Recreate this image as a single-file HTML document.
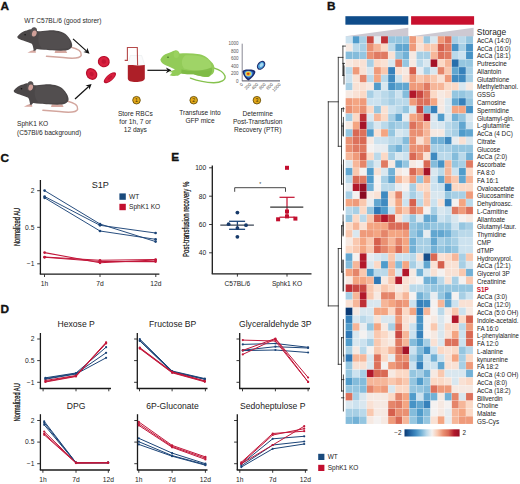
<!DOCTYPE html>
<html><head><meta charset="utf-8"><title>Figure</title>
<style>html,body{margin:0;padding:0;background:#fff;}body{width:520px;height:484px;overflow:hidden;font-family:"Liberation Sans",sans-serif;}svg{display:block;}</style>
</head><body>
<svg width="520" height="484" viewBox="0 0 520 484">
<rect width="520" height="484" fill="#fff"/>
<text x="0.4" y="10.3" font-size="11.8" font-weight="bold" fill="#111" stroke="#111" stroke-width="0.35" font-family="Liberation Sans, sans-serif">A</text>
<text x="24.3" y="22.7" font-size="6.6" fill="#2a2a2a" font-family="Liberation Sans, sans-serif">WT C57BL/6 (good storer)</text>
<g transform="translate(0.0,0.0)">
<path d="M70.5,47 C77,48.5 82,51.5 81.2,55.2 C80.4,58.2 72,58.6 63,57.6 C56,57 51,56.6 46.5,56.2" fill="none" stroke="#d3a69e" stroke-width="1.5" stroke-linecap="round"/>
<path d="M55.5,50.3 C55,51.5 54.8,52.3 54.6,52.9 L67.2,52.9 C66.8,51.8 66.3,51 65.5,50.3 Z" fill="#d6a8a0"/>
<path d="M33.2,50.2 L35.4,50.4 C35.8,51.2 35.9,52 35.9,52.8 L27.4,52.8 C28.5,51.8 30.5,51 33.2,50.2 Z" fill="#d6a8a0"/>
<path d="M17.4,36.6 C18.5,35 19.8,33.8 21.3,32.8 C23,31.6 25,30.9 26.7,30.5 C28,30 29,29.6 30.1,29.3 C33,29.5 36,30.5 38.2,31.3 C41,31 44,30.8 48,30.4 C53,30 57,30.5 61,31.8 C64.5,33 67,35 68.8,37.5 C70.8,40 72,42.5 72.2,45.1 C72.3,47 71,48.8 68.6,49.7 L66,50.5 C61,50.8 56,50.6 52,50.3 C49,50.1 46.5,49.8 44.4,49.7 C41.5,49.5 39,49.2 36.7,48.9 L35.3,50.7 L33.2,50.7 L33.6,49.7 C33.2,47.5 32.8,45.5 32.1,44.3 C31.8,43.8 31.6,43.6 31.3,43.5 C29,42.5 27,41.8 25.1,41.2 C22.5,40.3 20,39.5 18.2,38.5 C17.5,38 17.2,37.3 17.4,36.6 Z" fill="#4b4748"/>
<path d="M40,32.2 C50,31 60,32 66,35.4 C70,39.2 71,44 69,48 C62,49.4 50,49.4 42,48.4 C38,44 37,38 40,32.2 Z" fill="#524e4f"/>
<ellipse cx="33.6" cy="32.0" rx="3.2" ry="4.8" transform="rotate(15 33.6 32.0)" fill="#575253"/>
<ellipse cx="34.3" cy="33.5" rx="2.3" ry="3.1" transform="rotate(15 34.3 33.5)" fill="#cf9f98"/>
<circle cx="25.1" cy="34.7" r="0.8" fill="#151515"/>
</g>
<g transform="translate(-3.6,54.0)">
<path d="M70.5,47 C77,48.5 82,51.5 81.2,55.2 C80.4,58.2 72,58.6 63,57.6 C56,57 51,56.6 46.5,56.2" fill="none" stroke="#d3a69e" stroke-width="1.5" stroke-linecap="round"/>
<path d="M55.5,50.3 C55,51.5 54.8,52.3 54.6,52.9 L67.2,52.9 C66.8,51.8 66.3,51 65.5,50.3 Z" fill="#d6a8a0"/>
<path d="M33.2,50.2 L35.4,50.4 C35.8,51.2 35.9,52 35.9,52.8 L27.4,52.8 C28.5,51.8 30.5,51 33.2,50.2 Z" fill="#d6a8a0"/>
<path d="M17.4,36.6 C18.5,35 19.8,33.8 21.3,32.8 C23,31.6 25,30.9 26.7,30.5 C28,30 29,29.6 30.1,29.3 C33,29.5 36,30.5 38.2,31.3 C41,31 44,30.8 48,30.4 C53,30 57,30.5 61,31.8 C64.5,33 67,35 68.8,37.5 C70.8,40 72,42.5 72.2,45.1 C72.3,47 71,48.8 68.6,49.7 L66,50.5 C61,50.8 56,50.6 52,50.3 C49,50.1 46.5,49.8 44.4,49.7 C41.5,49.5 39,49.2 36.7,48.9 L35.3,50.7 L33.2,50.7 L33.6,49.7 C33.2,47.5 32.8,45.5 32.1,44.3 C31.8,43.8 31.6,43.6 31.3,43.5 C29,42.5 27,41.8 25.1,41.2 C22.5,40.3 20,39.5 18.2,38.5 C17.5,38 17.2,37.3 17.4,36.6 Z" fill="#4b4748"/>
<path d="M40,32.2 C50,31 60,32 66,35.4 C70,39.2 71,44 69,48 C62,49.4 50,49.4 42,48.4 C38,44 37,38 40,32.2 Z" fill="#524e4f"/>
<ellipse cx="33.6" cy="32.0" rx="3.2" ry="4.8" transform="rotate(15 33.6 32.0)" fill="#575253"/>
<ellipse cx="34.3" cy="33.5" rx="2.3" ry="3.1" transform="rotate(15 34.3 33.5)" fill="#cf9f98"/>
<circle cx="25.1" cy="34.7" r="0.8" fill="#151515"/>
</g>
<text x="17.0" y="126.0" font-size="6.6" fill="#262626" font-family="Liberation Sans, sans-serif">SphK1 KO</text>
<text x="17.0" y="134.6" font-size="6.6" fill="#262626" font-family="Liberation Sans, sans-serif">(C57Bl/6 background)</text>
<line x1="73.0" y1="38.9" x2="86.6" y2="51.1" stroke="#111" stroke-width="1.2"/>
<polygon points="89.5,53.7 83.4,52.1 86.6,51.1 87.3,47.8" fill="#111"/>
<line x1="75.0" y1="99.0" x2="88.7" y2="86.5" stroke="#111" stroke-width="1.2"/>
<polygon points="91.6,83.9 89.4,89.8 88.7,86.5 85.5,85.5" fill="#111"/>
<g transform="translate(103.8,61.6) rotate(10.0)">
<ellipse rx="6.0" ry="5.7" fill="#b8102e"/>
<ellipse rx="4.8" ry="4.6" fill="#d9203f"/>
<ellipse rx="2.3" ry="2.2" fill="#c41534"/>
</g>
<g transform="translate(91.6,74.0) rotate(50.0)">
<ellipse rx="6.3" ry="5.3" fill="#b8102e"/>
<ellipse rx="5.0" ry="4.2" fill="#d9203f"/>
<ellipse rx="2.4" ry="2.0" fill="#c41534"/>
</g>
<g transform="translate(109.9,77.7) rotate(-40.0)">
<ellipse rx="7.6" ry="3.2" fill="#b8102e"/>
<ellipse rx="6.1" ry="2.6" fill="#d9203f"/>
<ellipse rx="2.9" ry="1.2" fill="#c41534"/>
</g>
<path d="M130.3,55.5 L141.7,55.5 L144.8,65.3 L127.8,65.3 Z" fill="#fafbfc" stroke="#dde2e6" stroke-width="0.4"/>
<path d="M127.8,65.3 C132,64.3 138,66.3 144.8,65.0 L144.8,78.5 C144.8,81 140,82 136,82 C131,82 127.8,81 127.8,78.5 Z" fill="#ad1f28"/>
<path d="M124.7,60.4 L127.4,60.4 L127.4,47.5 L137.3,47.5 L137.6,65.5" fill="none" stroke="#b54a4a" stroke-width="1.1"/>
<line x1="147.4" y1="70.3" x2="167.6" y2="70.3" stroke="#111" stroke-width="1.2"/>
<polygon points="171.5,70.3 165.9,73.2 167.6,70.3 165.9,67.4" fill="#111"/>
<path d="M214.2,68.1 C219,69.5 223.5,72 225,76 C226,80 221,82.8 213.5,82.7 C206,82.5 197,80.5 190.4,78.1" fill="none" stroke="#86c24e" stroke-width="1.4" stroke-linecap="round"/>
<path d="M160.4,59.6 C162,56 164.5,54 167.3,53.5 C170,52.5 172.5,51 175,50.4 C177.5,50 179,51.5 179.6,53.5 C186,53 193,53.2 199.6,54.2 C205,55.2 208.8,58.8 211,61.5 C214,64 215,67 214.2,70.5 C214,72.5 213,74 211.9,74.5 L209,76.8 C206,77.2 202,77 201,76 C198,75.5 195,75 193.5,74.2 C188,74.5 183,74 181.2,73.5 L178,75.8 C175,76 171,76 169.6,75.5 C170.5,74.5 171.5,73.5 172.3,72.6 C171,72.3 169.8,72.1 168.8,72 L175,69.5 L168.8,66.5 C166.8,65.8 165.3,65.2 164.2,64.6 C162,63.5 160.5,61.5 160.4,59.6 Z" fill="#92cb58"/>
<path d="M185,55.5 C195,54.8 205,56.5 209,60.5 C212,64.5 212,69 210,71 C200,71.5 190,70.5 184,68.5 C181,64 181,59.5 185,55.5 Z" fill="#a3d66c" opacity="0.8"/>
<path d="M181.5,69.5 C190,71.5 202,71.5 211.5,67.5 C212.5,71 212,73.5 209,76.5 C205,77 201,76.5 193.5,74.2 C188,74.5 183.5,74 181.2,73.5 Z" fill="#78b43f" opacity="0.7"/>
<ellipse cx="176.3" cy="54.5" rx="2.6" ry="3.6" fill="#9bd260"/>
<circle cx="168.0" cy="57.3" r="0.8" fill="#3d6e1e"/>
<line x1="242.2" y1="43.7" x2="242.2" y2="81.2" stroke="#7c7c88" stroke-width="0.9"/>
<line x1="242.2" y1="80.9" x2="280.0" y2="80.9" stroke="#4c4c5c" stroke-width="1.0"/>
<text x="238.6" y="45.3" font-size="4.5" text-anchor="end" fill="#555" font-family="Liberation Sans, sans-serif">1000</text>
<text x="238.6" y="52.9" font-size="4.5" text-anchor="end" fill="#555" font-family="Liberation Sans, sans-serif">800</text>
<text x="238.6" y="60.1" font-size="4.5" text-anchor="end" fill="#555" font-family="Liberation Sans, sans-serif">600</text>
<text x="238.6" y="67.7" font-size="4.5" text-anchor="end" fill="#555" font-family="Liberation Sans, sans-serif">400</text>
<text x="238.6" y="75.0" font-size="4.5" text-anchor="end" fill="#555" font-family="Liberation Sans, sans-serif">200</text>
<text x="238.6" y="82.5" font-size="4.5" text-anchor="end" fill="#555" font-family="Liberation Sans, sans-serif">0</text>
<text transform="translate(243.3,84.8) rotate(-45)" font-size="4.5" text-anchor="end" fill="#555" font-family="Liberation Sans, sans-serif">0</text>
<text transform="translate(251.6,84.8) rotate(-45)" font-size="4.5" text-anchor="end" fill="#555" font-family="Liberation Sans, sans-serif">200</text>
<text transform="translate(258.6,84.8) rotate(-45)" font-size="4.5" text-anchor="end" fill="#555" font-family="Liberation Sans, sans-serif">400</text>
<text transform="translate(266.0,84.8) rotate(-45)" font-size="4.5" text-anchor="end" fill="#555" font-family="Liberation Sans, sans-serif">600</text>
<text transform="translate(273.4,84.8) rotate(-45)" font-size="4.5" text-anchor="end" fill="#555" font-family="Liberation Sans, sans-serif">800</text>
<text transform="translate(281.0,84.8) rotate(-45)" font-size="4.5" text-anchor="end" fill="#555" font-family="Liberation Sans, sans-serif">1000</text>
<path d="M242.5,71.5 C243,69.5 247,69.3 250,69.6 C253.5,69.8 255.8,70.5 255.3,72.5 C254.5,75.5 251,79 248.6,80.4 C246,79.5 243,75.5 242.5,71.5 Z" fill="#1b2a6b"/>
<path d="M244,72 C244.8,70.8 247.5,70.7 250,70.9 C252.5,71.1 254,71.8 253.6,73 C253,75 250.5,77.5 248.6,78.6 C246.8,77.6 244.5,75 244,72 Z" fill="#2e6bc0"/>
<ellipse cx="248.5" cy="73.8" rx="3.6" ry="2.9" fill="#7cc6e8"/>
<ellipse cx="248.3" cy="73.8" rx="2.7" ry="2.2" fill="#f2d23a"/>
<ellipse cx="248.2" cy="73.8" rx="1.6" ry="1.4" fill="#e5761e"/>
<ellipse cx="248.1" cy="73.7" rx="0.8" ry="0.7" fill="#c0231a"/>
<ellipse cx="261.1" cy="65.3" rx="5.0" ry="3.6" transform="rotate(-50 261.1 65.3)" fill="#1b2a6b"/>
<ellipse cx="261.1" cy="65.3" rx="3.8" ry="2.5" transform="rotate(-50 261.1 65.3)" fill="#4f9fd8"/>
<ellipse cx="261.4" cy="65.0" rx="2.2" ry="1.5" transform="rotate(-50 261.4 65.0)" fill="#a8daf2"/>
<circle cx="136.5" cy="100.2" r="3.8" fill="#e2a91a" stroke="#5a4200" stroke-width="0.8"/>
<text x="136.5" y="102.0" font-size="5.2" text-anchor="middle" fill="#4a3600" font-family="Liberation Sans, sans-serif">1</text>
<circle cx="193.7" cy="100.2" r="3.8" fill="#e2a91a" stroke="#5a4200" stroke-width="0.8"/>
<text x="193.7" y="102.0" font-size="5.2" text-anchor="middle" fill="#4a3600" font-family="Liberation Sans, sans-serif">2</text>
<circle cx="256.9" cy="100.2" r="3.8" fill="#e2a91a" stroke="#5a4200" stroke-width="0.8"/>
<text x="256.9" y="102.0" font-size="5.2" text-anchor="middle" fill="#4a3600" font-family="Liberation Sans, sans-serif">3</text>
<text x="135.3" y="116.2" font-size="6.6" text-anchor="middle" fill="#262626" font-family="Liberation Sans, sans-serif">Store RBCs</text>
<text x="135.3" y="124.3" font-size="6.6" text-anchor="middle" fill="#262626" font-family="Liberation Sans, sans-serif">for 1h, 7 or</text>
<text x="135.3" y="132.4" font-size="6.6" text-anchor="middle" fill="#262626" font-family="Liberation Sans, sans-serif">12 days</text>
<text x="200.0" y="115.0" font-size="6.6" text-anchor="middle" fill="#262626" font-family="Liberation Sans, sans-serif">Transfuse into</text>
<text x="200.0" y="123.0" font-size="6.6" text-anchor="middle" fill="#262626" font-family="Liberation Sans, sans-serif">GFP mice</text>
<text x="257.7" y="116.2" font-size="6.6" text-anchor="middle" fill="#262626" font-family="Liberation Sans, sans-serif">Determine</text>
<text x="257.7" y="124.3" font-size="6.6" text-anchor="middle" fill="#262626" font-family="Liberation Sans, sans-serif">Post-Transfusion</text>
<text x="257.7" y="132.4" font-size="6.6" text-anchor="middle" fill="#262626" font-family="Liberation Sans, sans-serif">Recovery (PTR)</text>
<text x="327.1" y="10.3" font-size="11.8" font-weight="bold" fill="#111" stroke="#111" stroke-width="0.35" font-family="Liberation Sans, sans-serif">B</text>
<g stroke="#ffffff" stroke-width="0.35" stroke-opacity="0.4">
<rect x="345.60" y="36.00" width="7.08" height="7.76" fill="#cce2ef"/>
<rect x="352.68" y="36.00" width="7.08" height="7.76" fill="#509ccb"/>
<rect x="359.76" y="36.00" width="7.08" height="7.76" fill="#a7cfe5"/>
<rect x="366.84" y="36.00" width="7.08" height="7.76" fill="#ca4842"/>
<rect x="373.92" y="36.00" width="7.08" height="7.76" fill="#e7ecf0"/>
<rect x="381.00" y="36.00" width="7.08" height="7.76" fill="#be3036"/>
<rect x="388.08" y="36.00" width="7.08" height="7.76" fill="#95c6e0"/>
<rect x="395.16" y="36.00" width="7.08" height="7.76" fill="#95c6e0"/>
<rect x="402.24" y="36.00" width="7.08" height="7.76" fill="#95c6e0"/>
<rect x="409.32" y="36.00" width="7.08" height="7.76" fill="#ef9a7a"/>
<rect x="416.40" y="36.00" width="7.08" height="7.76" fill="#fbd9c6"/>
<rect x="423.48" y="36.00" width="7.08" height="7.76" fill="#95c6e0"/>
<rect x="430.56" y="36.00" width="7.08" height="7.76" fill="#d9e7ef"/>
<rect x="437.64" y="36.00" width="7.08" height="7.76" fill="#ef9a7a"/>
<rect x="444.72" y="36.00" width="7.08" height="7.76" fill="#dd715b"/>
<rect x="451.80" y="36.00" width="7.08" height="7.76" fill="#a7cfe5"/>
<rect x="458.88" y="36.00" width="7.08" height="7.76" fill="#bad9ea"/>
<rect x="465.96" y="36.00" width="7.08" height="7.76" fill="#95c6e0"/>
<rect x="345.60" y="43.76" width="7.08" height="7.76" fill="#f6e9e2"/>
<rect x="352.68" y="43.76" width="7.08" height="7.76" fill="#bad9ea"/>
<rect x="359.76" y="43.76" width="7.08" height="7.76" fill="#a7cfe5"/>
<rect x="366.84" y="43.76" width="7.08" height="7.76" fill="#ea9072"/>
<rect x="373.92" y="43.76" width="7.08" height="7.76" fill="#f6b699"/>
<rect x="381.00" y="43.76" width="7.08" height="7.76" fill="#fbd9c6"/>
<rect x="388.08" y="43.76" width="7.08" height="7.76" fill="#bad9ea"/>
<rect x="395.16" y="43.76" width="7.08" height="7.76" fill="#61a6d0"/>
<rect x="402.24" y="43.76" width="7.08" height="7.76" fill="#61a6d0"/>
<rect x="409.32" y="43.76" width="7.08" height="7.76" fill="#ef9a7a"/>
<rect x="416.40" y="43.76" width="7.08" height="7.76" fill="#f9e1d4"/>
<rect x="423.48" y="43.76" width="7.08" height="7.76" fill="#f9c8af"/>
<rect x="430.56" y="43.76" width="7.08" height="7.76" fill="#f9c8af"/>
<rect x="437.64" y="43.76" width="7.08" height="7.76" fill="#d6604d"/>
<rect x="444.72" y="43.76" width="7.08" height="7.76" fill="#e07a62"/>
<rect x="451.80" y="43.76" width="7.08" height="7.76" fill="#4793c6"/>
<rect x="458.88" y="43.76" width="7.08" height="7.76" fill="#a7cfe5"/>
<rect x="465.96" y="43.76" width="7.08" height="7.76" fill="#4793c6"/>
<rect x="345.60" y="51.52" width="7.08" height="7.76" fill="#84bcdb"/>
<rect x="352.68" y="51.52" width="7.08" height="7.76" fill="#84bcdb"/>
<rect x="359.76" y="51.52" width="7.08" height="7.76" fill="#95c6e0"/>
<rect x="366.84" y="51.52" width="7.08" height="7.76" fill="#ea9072"/>
<rect x="373.92" y="51.52" width="7.08" height="7.76" fill="#e07a62"/>
<rect x="381.00" y="51.52" width="7.08" height="7.76" fill="#e07a62"/>
<rect x="388.08" y="51.52" width="7.08" height="7.76" fill="#f9e1d4"/>
<rect x="395.16" y="51.52" width="7.08" height="7.76" fill="#95c6e0"/>
<rect x="402.24" y="51.52" width="7.08" height="7.76" fill="#72b1d6"/>
<rect x="409.32" y="51.52" width="7.08" height="7.76" fill="#f6e9e2"/>
<rect x="416.40" y="51.52" width="7.08" height="7.76" fill="#a7cfe5"/>
<rect x="423.48" y="51.52" width="7.08" height="7.76" fill="#a7cfe5"/>
<rect x="430.56" y="51.52" width="7.08" height="7.76" fill="#f6b699"/>
<rect x="437.64" y="51.52" width="7.08" height="7.76" fill="#dd715b"/>
<rect x="444.72" y="51.52" width="7.08" height="7.76" fill="#e07a62"/>
<rect x="451.80" y="51.52" width="7.08" height="7.76" fill="#bad9ea"/>
<rect x="458.88" y="51.52" width="7.08" height="7.76" fill="#cce2ef"/>
<rect x="465.96" y="51.52" width="7.08" height="7.76" fill="#4793c6"/>
<rect x="345.60" y="59.28" width="7.08" height="7.76" fill="#f6e9e2"/>
<rect x="352.68" y="59.28" width="7.08" height="7.76" fill="#f9e1d4"/>
<rect x="359.76" y="59.28" width="7.08" height="7.76" fill="#f9e1d4"/>
<rect x="366.84" y="59.28" width="7.08" height="7.76" fill="#a7cfe5"/>
<rect x="373.92" y="59.28" width="7.08" height="7.76" fill="#fbd9c6"/>
<rect x="381.00" y="59.28" width="7.08" height="7.76" fill="#f9e1d4"/>
<rect x="388.08" y="59.28" width="7.08" height="7.76" fill="#d9e7ef"/>
<rect x="395.16" y="59.28" width="7.08" height="7.76" fill="#e07a62"/>
<rect x="402.24" y="59.28" width="7.08" height="7.76" fill="#95c6e0"/>
<rect x="409.32" y="59.28" width="7.08" height="7.76" fill="#f6e9e2"/>
<rect x="416.40" y="59.28" width="7.08" height="7.76" fill="#bad9ea"/>
<rect x="423.48" y="59.28" width="7.08" height="7.76" fill="#d9e7ef"/>
<rect x="430.56" y="59.28" width="7.08" height="7.76" fill="#a51328"/>
<rect x="437.64" y="59.28" width="7.08" height="7.76" fill="#fbd9c6"/>
<rect x="444.72" y="59.28" width="7.08" height="7.76" fill="#f6b699"/>
<rect x="451.80" y="59.28" width="7.08" height="7.76" fill="#286eab"/>
<rect x="458.88" y="59.28" width="7.08" height="7.76" fill="#95c6e0"/>
<rect x="465.96" y="59.28" width="7.08" height="7.76" fill="#95c6e0"/>
<rect x="345.60" y="67.04" width="7.08" height="7.76" fill="#bad9ea"/>
<rect x="352.68" y="67.04" width="7.08" height="7.76" fill="#ef9a7a"/>
<rect x="359.76" y="67.04" width="7.08" height="7.76" fill="#f9e1d4"/>
<rect x="366.84" y="67.04" width="7.08" height="7.76" fill="#d9e7ef"/>
<rect x="373.92" y="67.04" width="7.08" height="7.76" fill="#ef9a7a"/>
<rect x="381.00" y="67.04" width="7.08" height="7.76" fill="#f9c8af"/>
<rect x="388.08" y="67.04" width="7.08" height="7.76" fill="#3681bb"/>
<rect x="395.16" y="67.04" width="7.08" height="7.76" fill="#f9e1d4"/>
<rect x="402.24" y="67.04" width="7.08" height="7.76" fill="#f6e9e2"/>
<rect x="409.32" y="67.04" width="7.08" height="7.76" fill="#d6604d"/>
<rect x="416.40" y="67.04" width="7.08" height="7.76" fill="#e7ecf0"/>
<rect x="423.48" y="67.04" width="7.08" height="7.76" fill="#a7cfe5"/>
<rect x="430.56" y="67.04" width="7.08" height="7.76" fill="#d9e7ef"/>
<rect x="437.64" y="67.04" width="7.08" height="7.76" fill="#e5856a"/>
<rect x="444.72" y="67.04" width="7.08" height="7.76" fill="#f9c8af"/>
<rect x="451.80" y="67.04" width="7.08" height="7.76" fill="#61a6d0"/>
<rect x="458.88" y="67.04" width="7.08" height="7.76" fill="#3681bb"/>
<rect x="465.96" y="67.04" width="7.08" height="7.76" fill="#a7cfe5"/>
<rect x="345.60" y="74.80" width="7.08" height="7.76" fill="#cce2ef"/>
<rect x="352.68" y="74.80" width="7.08" height="7.76" fill="#f9e1d4"/>
<rect x="359.76" y="74.80" width="7.08" height="7.76" fill="#e5856a"/>
<rect x="366.84" y="74.80" width="7.08" height="7.76" fill="#bad9ea"/>
<rect x="373.92" y="74.80" width="7.08" height="7.76" fill="#f4a582"/>
<rect x="381.00" y="74.80" width="7.08" height="7.76" fill="#bad9ea"/>
<rect x="388.08" y="74.80" width="7.08" height="7.76" fill="#3f8ac0"/>
<rect x="395.16" y="74.80" width="7.08" height="7.76" fill="#cce2ef"/>
<rect x="402.24" y="74.80" width="7.08" height="7.76" fill="#f9e1d4"/>
<rect x="409.32" y="74.80" width="7.08" height="7.76" fill="#ef9a7a"/>
<rect x="416.40" y="74.80" width="7.08" height="7.76" fill="#f9c8af"/>
<rect x="423.48" y="74.80" width="7.08" height="7.76" fill="#f6b699"/>
<rect x="430.56" y="74.80" width="7.08" height="7.76" fill="#f9c8af"/>
<rect x="437.64" y="74.80" width="7.08" height="7.76" fill="#f9e1d4"/>
<rect x="444.72" y="74.80" width="7.08" height="7.76" fill="#ef9a7a"/>
<rect x="451.80" y="74.80" width="7.08" height="7.76" fill="#3f8ac0"/>
<rect x="458.88" y="74.80" width="7.08" height="7.76" fill="#3f8ac0"/>
<rect x="465.96" y="74.80" width="7.08" height="7.76" fill="#a7cfe5"/>
<rect x="345.60" y="82.56" width="7.08" height="7.76" fill="#a7cfe5"/>
<rect x="352.68" y="82.56" width="7.08" height="7.76" fill="#f9e1d4"/>
<rect x="359.76" y="82.56" width="7.08" height="7.76" fill="#f9e1d4"/>
<rect x="366.84" y="82.56" width="7.08" height="7.76" fill="#f6e9e2"/>
<rect x="373.92" y="82.56" width="7.08" height="7.76" fill="#509ccb"/>
<rect x="381.00" y="82.56" width="7.08" height="7.76" fill="#d9e7ef"/>
<rect x="388.08" y="82.56" width="7.08" height="7.76" fill="#4793c6"/>
<rect x="395.16" y="82.56" width="7.08" height="7.76" fill="#61a6d0"/>
<rect x="402.24" y="82.56" width="7.08" height="7.76" fill="#61a6d0"/>
<rect x="409.32" y="82.56" width="7.08" height="7.76" fill="#ef9a7a"/>
<rect x="416.40" y="82.56" width="7.08" height="7.76" fill="#ef9a7a"/>
<rect x="423.48" y="82.56" width="7.08" height="7.76" fill="#e07a62"/>
<rect x="430.56" y="82.56" width="7.08" height="7.76" fill="#f6b699"/>
<rect x="437.64" y="82.56" width="7.08" height="7.76" fill="#f6b699"/>
<rect x="444.72" y="82.56" width="7.08" height="7.76" fill="#fbd9c6"/>
<rect x="451.80" y="82.56" width="7.08" height="7.76" fill="#fbd9c6"/>
<rect x="458.88" y="82.56" width="7.08" height="7.76" fill="#d9e7ef"/>
<rect x="465.96" y="82.56" width="7.08" height="7.76" fill="#f6e9e2"/>
<rect x="345.60" y="90.32" width="7.08" height="7.76" fill="#f6e9e2"/>
<rect x="352.68" y="90.32" width="7.08" height="7.76" fill="#f9e1d4"/>
<rect x="359.76" y="90.32" width="7.08" height="7.76" fill="#fbd9c6"/>
<rect x="366.84" y="90.32" width="7.08" height="7.76" fill="#a7cfe5"/>
<rect x="373.92" y="90.32" width="7.08" height="7.76" fill="#cce2ef"/>
<rect x="381.00" y="90.32" width="7.08" height="7.76" fill="#bad9ea"/>
<rect x="388.08" y="90.32" width="7.08" height="7.76" fill="#a7cfe5"/>
<rect x="395.16" y="90.32" width="7.08" height="7.76" fill="#cce2ef"/>
<rect x="402.24" y="90.32" width="7.08" height="7.76" fill="#84bcdb"/>
<rect x="409.32" y="90.32" width="7.08" height="7.76" fill="#b2182b"/>
<rect x="416.40" y="90.32" width="7.08" height="7.76" fill="#ca4842"/>
<rect x="423.48" y="90.32" width="7.08" height="7.76" fill="#e07a62"/>
<rect x="430.56" y="90.32" width="7.08" height="7.76" fill="#fbd9c6"/>
<rect x="437.64" y="90.32" width="7.08" height="7.76" fill="#f6e9e2"/>
<rect x="444.72" y="90.32" width="7.08" height="7.76" fill="#f9e1d4"/>
<rect x="451.80" y="90.32" width="7.08" height="7.76" fill="#95c6e0"/>
<rect x="458.88" y="90.32" width="7.08" height="7.76" fill="#95c6e0"/>
<rect x="465.96" y="90.32" width="7.08" height="7.76" fill="#a7cfe5"/>
<rect x="345.60" y="98.08" width="7.08" height="7.76" fill="#ef9a7a"/>
<rect x="352.68" y="98.08" width="7.08" height="7.76" fill="#f4a582"/>
<rect x="359.76" y="98.08" width="7.08" height="7.76" fill="#ef9a7a"/>
<rect x="366.84" y="98.08" width="7.08" height="7.76" fill="#cce2ef"/>
<rect x="373.92" y="98.08" width="7.08" height="7.76" fill="#cce2ef"/>
<rect x="381.00" y="98.08" width="7.08" height="7.76" fill="#bad9ea"/>
<rect x="388.08" y="98.08" width="7.08" height="7.76" fill="#a7cfe5"/>
<rect x="395.16" y="98.08" width="7.08" height="7.76" fill="#bad9ea"/>
<rect x="402.24" y="98.08" width="7.08" height="7.76" fill="#bad9ea"/>
<rect x="409.32" y="98.08" width="7.08" height="7.76" fill="#ef9a7a"/>
<rect x="416.40" y="98.08" width="7.08" height="7.76" fill="#dd715b"/>
<rect x="423.48" y="98.08" width="7.08" height="7.76" fill="#dd715b"/>
<rect x="430.56" y="98.08" width="7.08" height="7.76" fill="#f4a582"/>
<rect x="437.64" y="98.08" width="7.08" height="7.76" fill="#f6e9e2"/>
<rect x="444.72" y="98.08" width="7.08" height="7.76" fill="#d9e7ef"/>
<rect x="451.80" y="98.08" width="7.08" height="7.76" fill="#61a6d0"/>
<rect x="458.88" y="98.08" width="7.08" height="7.76" fill="#3681bb"/>
<rect x="465.96" y="98.08" width="7.08" height="7.76" fill="#95c6e0"/>
<rect x="345.60" y="105.84" width="7.08" height="7.76" fill="#ea9072"/>
<rect x="352.68" y="105.84" width="7.08" height="7.76" fill="#f4a582"/>
<rect x="359.76" y="105.84" width="7.08" height="7.76" fill="#ea9072"/>
<rect x="366.84" y="105.84" width="7.08" height="7.76" fill="#fbd9c6"/>
<rect x="373.92" y="105.84" width="7.08" height="7.76" fill="#95c6e0"/>
<rect x="381.00" y="105.84" width="7.08" height="7.76" fill="#f9e1d4"/>
<rect x="388.08" y="105.84" width="7.08" height="7.76" fill="#cce2ef"/>
<rect x="395.16" y="105.84" width="7.08" height="7.76" fill="#bad9ea"/>
<rect x="402.24" y="105.84" width="7.08" height="7.76" fill="#95c6e0"/>
<rect x="409.32" y="105.84" width="7.08" height="7.76" fill="#d9e7ef"/>
<rect x="416.40" y="105.84" width="7.08" height="7.76" fill="#ca4842"/>
<rect x="423.48" y="105.84" width="7.08" height="7.76" fill="#84bcdb"/>
<rect x="430.56" y="105.84" width="7.08" height="7.76" fill="#3681bb"/>
<rect x="437.64" y="105.84" width="7.08" height="7.76" fill="#f6e9e2"/>
<rect x="444.72" y="105.84" width="7.08" height="7.76" fill="#d9e7ef"/>
<rect x="451.80" y="105.84" width="7.08" height="7.76" fill="#f4a582"/>
<rect x="458.88" y="105.84" width="7.08" height="7.76" fill="#f4a582"/>
<rect x="465.96" y="105.84" width="7.08" height="7.76" fill="#4793c6"/>
<rect x="345.60" y="113.60" width="7.08" height="7.76" fill="#a7cfe5"/>
<rect x="352.68" y="113.60" width="7.08" height="7.76" fill="#fbd9c6"/>
<rect x="359.76" y="113.60" width="7.08" height="7.76" fill="#be3036"/>
<rect x="366.84" y="113.60" width="7.08" height="7.76" fill="#d9e7ef"/>
<rect x="373.92" y="113.60" width="7.08" height="7.76" fill="#f6b699"/>
<rect x="381.00" y="113.60" width="7.08" height="7.76" fill="#fbd9c6"/>
<rect x="388.08" y="113.60" width="7.08" height="7.76" fill="#a7cfe5"/>
<rect x="395.16" y="113.60" width="7.08" height="7.76" fill="#61a6d0"/>
<rect x="402.24" y="113.60" width="7.08" height="7.76" fill="#e7ecf0"/>
<rect x="409.32" y="113.60" width="7.08" height="7.76" fill="#f4a582"/>
<rect x="416.40" y="113.60" width="7.08" height="7.76" fill="#ea9072"/>
<rect x="423.48" y="113.60" width="7.08" height="7.76" fill="#ab162a"/>
<rect x="430.56" y="113.60" width="7.08" height="7.76" fill="#d9e7ef"/>
<rect x="437.64" y="113.60" width="7.08" height="7.76" fill="#509ccb"/>
<rect x="444.72" y="113.60" width="7.08" height="7.76" fill="#d9e7ef"/>
<rect x="451.80" y="113.60" width="7.08" height="7.76" fill="#72b1d6"/>
<rect x="458.88" y="113.60" width="7.08" height="7.76" fill="#95c6e0"/>
<rect x="465.96" y="113.60" width="7.08" height="7.76" fill="#d9e7ef"/>
<rect x="345.60" y="121.36" width="7.08" height="7.76" fill="#f6e9e2"/>
<rect x="352.68" y="121.36" width="7.08" height="7.76" fill="#f4a582"/>
<rect x="359.76" y="121.36" width="7.08" height="7.76" fill="#a51328"/>
<rect x="366.84" y="121.36" width="7.08" height="7.76" fill="#a7cfe5"/>
<rect x="373.92" y="121.36" width="7.08" height="7.76" fill="#d9e7ef"/>
<rect x="381.00" y="121.36" width="7.08" height="7.76" fill="#bad9ea"/>
<rect x="388.08" y="121.36" width="7.08" height="7.76" fill="#95c6e0"/>
<rect x="395.16" y="121.36" width="7.08" height="7.76" fill="#a7cfe5"/>
<rect x="402.24" y="121.36" width="7.08" height="7.76" fill="#a7cfe5"/>
<rect x="409.32" y="121.36" width="7.08" height="7.76" fill="#dd715b"/>
<rect x="416.40" y="121.36" width="7.08" height="7.76" fill="#ea9072"/>
<rect x="423.48" y="121.36" width="7.08" height="7.76" fill="#f6b699"/>
<rect x="430.56" y="121.36" width="7.08" height="7.76" fill="#d9e7ef"/>
<rect x="437.64" y="121.36" width="7.08" height="7.76" fill="#d9e7ef"/>
<rect x="444.72" y="121.36" width="7.08" height="7.76" fill="#bad9ea"/>
<rect x="451.80" y="121.36" width="7.08" height="7.76" fill="#a7cfe5"/>
<rect x="458.88" y="121.36" width="7.08" height="7.76" fill="#61a6d0"/>
<rect x="465.96" y="121.36" width="7.08" height="7.76" fill="#cce2ef"/>
<rect x="345.60" y="129.12" width="7.08" height="7.76" fill="#95c6e0"/>
<rect x="352.68" y="129.12" width="7.08" height="7.76" fill="#d96954"/>
<rect x="359.76" y="129.12" width="7.08" height="7.76" fill="#dd715b"/>
<rect x="366.84" y="129.12" width="7.08" height="7.76" fill="#509ccb"/>
<rect x="373.92" y="129.12" width="7.08" height="7.76" fill="#f9e1d4"/>
<rect x="381.00" y="129.12" width="7.08" height="7.76" fill="#f4a582"/>
<rect x="388.08" y="129.12" width="7.08" height="7.76" fill="#95c6e0"/>
<rect x="395.16" y="129.12" width="7.08" height="7.76" fill="#d9e7ef"/>
<rect x="402.24" y="129.12" width="7.08" height="7.76" fill="#cce2ef"/>
<rect x="409.32" y="129.12" width="7.08" height="7.76" fill="#ea9072"/>
<rect x="416.40" y="129.12" width="7.08" height="7.76" fill="#ea9072"/>
<rect x="423.48" y="129.12" width="7.08" height="7.76" fill="#f6b699"/>
<rect x="430.56" y="129.12" width="7.08" height="7.76" fill="#f6e9e2"/>
<rect x="437.64" y="129.12" width="7.08" height="7.76" fill="#f6e9e2"/>
<rect x="444.72" y="129.12" width="7.08" height="7.76" fill="#bad9ea"/>
<rect x="451.80" y="129.12" width="7.08" height="7.76" fill="#a7cfe5"/>
<rect x="458.88" y="129.12" width="7.08" height="7.76" fill="#509ccb"/>
<rect x="465.96" y="129.12" width="7.08" height="7.76" fill="#61a6d0"/>
<rect x="345.60" y="136.88" width="7.08" height="7.76" fill="#ea9072"/>
<rect x="352.68" y="136.88" width="7.08" height="7.76" fill="#dd715b"/>
<rect x="359.76" y="136.88" width="7.08" height="7.76" fill="#d96954"/>
<rect x="366.84" y="136.88" width="7.08" height="7.76" fill="#f6e9e2"/>
<rect x="373.92" y="136.88" width="7.08" height="7.76" fill="#cce2ef"/>
<rect x="381.00" y="136.88" width="7.08" height="7.76" fill="#cce2ef"/>
<rect x="388.08" y="136.88" width="7.08" height="7.76" fill="#bad9ea"/>
<rect x="395.16" y="136.88" width="7.08" height="7.76" fill="#bad9ea"/>
<rect x="402.24" y="136.88" width="7.08" height="7.76" fill="#84bcdb"/>
<rect x="409.32" y="136.88" width="7.08" height="7.76" fill="#ea9072"/>
<rect x="416.40" y="136.88" width="7.08" height="7.76" fill="#f9e1d4"/>
<rect x="423.48" y="136.88" width="7.08" height="7.76" fill="#f6b699"/>
<rect x="430.56" y="136.88" width="7.08" height="7.76" fill="#72b1d6"/>
<rect x="437.64" y="136.88" width="7.08" height="7.76" fill="#72b1d6"/>
<rect x="444.72" y="136.88" width="7.08" height="7.76" fill="#3f8ac0"/>
<rect x="451.80" y="136.88" width="7.08" height="7.76" fill="#e7ecf0"/>
<rect x="458.88" y="136.88" width="7.08" height="7.76" fill="#f9e1d4"/>
<rect x="465.96" y="136.88" width="7.08" height="7.76" fill="#d9e7ef"/>
<rect x="345.60" y="144.64" width="7.08" height="7.76" fill="#ea9072"/>
<rect x="352.68" y="144.64" width="7.08" height="7.76" fill="#e07a62"/>
<rect x="359.76" y="144.64" width="7.08" height="7.76" fill="#e07a62"/>
<rect x="366.84" y="144.64" width="7.08" height="7.76" fill="#f4f1f0"/>
<rect x="373.92" y="144.64" width="7.08" height="7.76" fill="#e7ecf0"/>
<rect x="381.00" y="144.64" width="7.08" height="7.76" fill="#e7ecf0"/>
<rect x="388.08" y="144.64" width="7.08" height="7.76" fill="#95c6e0"/>
<rect x="395.16" y="144.64" width="7.08" height="7.76" fill="#72b1d6"/>
<rect x="402.24" y="144.64" width="7.08" height="7.76" fill="#a7cfe5"/>
<rect x="409.32" y="144.64" width="7.08" height="7.76" fill="#ea9072"/>
<rect x="416.40" y="144.64" width="7.08" height="7.76" fill="#ea9072"/>
<rect x="423.48" y="144.64" width="7.08" height="7.76" fill="#e5856a"/>
<rect x="430.56" y="144.64" width="7.08" height="7.76" fill="#a7cfe5"/>
<rect x="437.64" y="144.64" width="7.08" height="7.76" fill="#a7cfe5"/>
<rect x="444.72" y="144.64" width="7.08" height="7.76" fill="#a7cfe5"/>
<rect x="451.80" y="144.64" width="7.08" height="7.76" fill="#95c6e0"/>
<rect x="458.88" y="144.64" width="7.08" height="7.76" fill="#95c6e0"/>
<rect x="465.96" y="144.64" width="7.08" height="7.76" fill="#95c6e0"/>
<rect x="345.60" y="152.40" width="7.08" height="7.76" fill="#f6b699"/>
<rect x="352.68" y="152.40" width="7.08" height="7.76" fill="#ef9a7a"/>
<rect x="359.76" y="152.40" width="7.08" height="7.76" fill="#d6604d"/>
<rect x="366.84" y="152.40" width="7.08" height="7.76" fill="#fbd9c6"/>
<rect x="373.92" y="152.40" width="7.08" height="7.76" fill="#bad9ea"/>
<rect x="381.00" y="152.40" width="7.08" height="7.76" fill="#fbd9c6"/>
<rect x="388.08" y="152.40" width="7.08" height="7.76" fill="#a7cfe5"/>
<rect x="395.16" y="152.40" width="7.08" height="7.76" fill="#d9e7ef"/>
<rect x="402.24" y="152.40" width="7.08" height="7.76" fill="#cce2ef"/>
<rect x="409.32" y="152.40" width="7.08" height="7.76" fill="#d96954"/>
<rect x="416.40" y="152.40" width="7.08" height="7.76" fill="#ea9072"/>
<rect x="423.48" y="152.40" width="7.08" height="7.76" fill="#f9e1d4"/>
<rect x="430.56" y="152.40" width="7.08" height="7.76" fill="#3f8ac0"/>
<rect x="437.64" y="152.40" width="7.08" height="7.76" fill="#bad9ea"/>
<rect x="444.72" y="152.40" width="7.08" height="7.76" fill="#bad9ea"/>
<rect x="451.80" y="152.40" width="7.08" height="7.76" fill="#84bcdb"/>
<rect x="458.88" y="152.40" width="7.08" height="7.76" fill="#bad9ea"/>
<rect x="465.96" y="152.40" width="7.08" height="7.76" fill="#72b1d6"/>
<rect x="345.60" y="160.16" width="7.08" height="7.76" fill="#d9e7ef"/>
<rect x="352.68" y="160.16" width="7.08" height="7.76" fill="#f6b699"/>
<rect x="359.76" y="160.16" width="7.08" height="7.76" fill="#e5856a"/>
<rect x="366.84" y="160.16" width="7.08" height="7.76" fill="#a7cfe5"/>
<rect x="373.92" y="160.16" width="7.08" height="7.76" fill="#d9e7ef"/>
<rect x="381.00" y="160.16" width="7.08" height="7.76" fill="#e07a62"/>
<rect x="388.08" y="160.16" width="7.08" height="7.76" fill="#f6e9e2"/>
<rect x="395.16" y="160.16" width="7.08" height="7.76" fill="#61a6d0"/>
<rect x="402.24" y="160.16" width="7.08" height="7.76" fill="#95c6e0"/>
<rect x="409.32" y="160.16" width="7.08" height="7.76" fill="#f6e9e2"/>
<rect x="416.40" y="160.16" width="7.08" height="7.76" fill="#f4f1f0"/>
<rect x="423.48" y="160.16" width="7.08" height="7.76" fill="#d96954"/>
<rect x="430.56" y="160.16" width="7.08" height="7.76" fill="#84bcdb"/>
<rect x="437.64" y="160.16" width="7.08" height="7.76" fill="#4793c6"/>
<rect x="444.72" y="160.16" width="7.08" height="7.76" fill="#f6b699"/>
<rect x="451.80" y="160.16" width="7.08" height="7.76" fill="#95c6e0"/>
<rect x="458.88" y="160.16" width="7.08" height="7.76" fill="#a7cfe5"/>
<rect x="465.96" y="160.16" width="7.08" height="7.76" fill="#e07a62"/>
<rect x="345.60" y="167.92" width="7.08" height="7.76" fill="#61a6d0"/>
<rect x="352.68" y="167.92" width="7.08" height="7.76" fill="#f9c8af"/>
<rect x="359.76" y="167.92" width="7.08" height="7.76" fill="#f4f1f0"/>
<rect x="366.84" y="167.92" width="7.08" height="7.76" fill="#509ccb"/>
<rect x="373.92" y="167.92" width="7.08" height="7.76" fill="#f9e1d4"/>
<rect x="381.00" y="167.92" width="7.08" height="7.76" fill="#d9e7ef"/>
<rect x="388.08" y="167.92" width="7.08" height="7.76" fill="#72b1d6"/>
<rect x="395.16" y="167.92" width="7.08" height="7.76" fill="#f6e9e2"/>
<rect x="402.24" y="167.92" width="7.08" height="7.76" fill="#f4f1f0"/>
<rect x="409.32" y="167.92" width="7.08" height="7.76" fill="#d96954"/>
<rect x="416.40" y="167.92" width="7.08" height="7.76" fill="#ef9a7a"/>
<rect x="423.48" y="167.92" width="7.08" height="7.76" fill="#a51328"/>
<rect x="430.56" y="167.92" width="7.08" height="7.76" fill="#d9e7ef"/>
<rect x="437.64" y="167.92" width="7.08" height="7.76" fill="#bad9ea"/>
<rect x="444.72" y="167.92" width="7.08" height="7.76" fill="#f6b699"/>
<rect x="451.80" y="167.92" width="7.08" height="7.76" fill="#cce2ef"/>
<rect x="458.88" y="167.92" width="7.08" height="7.76" fill="#509ccb"/>
<rect x="465.96" y="167.92" width="7.08" height="7.76" fill="#fbd9c6"/>
<rect x="345.60" y="175.68" width="7.08" height="7.76" fill="#bad9ea"/>
<rect x="352.68" y="175.68" width="7.08" height="7.76" fill="#d96954"/>
<rect x="359.76" y="175.68" width="7.08" height="7.76" fill="#e07a62"/>
<rect x="366.84" y="175.68" width="7.08" height="7.76" fill="#509ccb"/>
<rect x="373.92" y="175.68" width="7.08" height="7.76" fill="#f4f1f0"/>
<rect x="381.00" y="175.68" width="7.08" height="7.76" fill="#a7cfe5"/>
<rect x="388.08" y="175.68" width="7.08" height="7.76" fill="#61a6d0"/>
<rect x="395.16" y="175.68" width="7.08" height="7.76" fill="#f6b699"/>
<rect x="402.24" y="175.68" width="7.08" height="7.76" fill="#fbd9c6"/>
<rect x="409.32" y="175.68" width="7.08" height="7.76" fill="#ef9a7a"/>
<rect x="416.40" y="175.68" width="7.08" height="7.76" fill="#95c6e0"/>
<rect x="423.48" y="175.68" width="7.08" height="7.76" fill="#f4a582"/>
<rect x="430.56" y="175.68" width="7.08" height="7.76" fill="#cce2ef"/>
<rect x="437.64" y="175.68" width="7.08" height="7.76" fill="#61a6d0"/>
<rect x="444.72" y="175.68" width="7.08" height="7.76" fill="#f4a582"/>
<rect x="451.80" y="175.68" width="7.08" height="7.76" fill="#f9c8af"/>
<rect x="458.88" y="175.68" width="7.08" height="7.76" fill="#61a6d0"/>
<rect x="465.96" y="175.68" width="7.08" height="7.76" fill="#f6b699"/>
<rect x="345.60" y="183.44" width="7.08" height="7.76" fill="#e7ecf0"/>
<rect x="352.68" y="183.44" width="7.08" height="7.76" fill="#b2182b"/>
<rect x="359.76" y="183.44" width="7.08" height="7.76" fill="#970f25"/>
<rect x="366.84" y="183.44" width="7.08" height="7.76" fill="#72b1d6"/>
<rect x="373.92" y="183.44" width="7.08" height="7.76" fill="#f4f1f0"/>
<rect x="381.00" y="183.44" width="7.08" height="7.76" fill="#bad9ea"/>
<rect x="388.08" y="183.44" width="7.08" height="7.76" fill="#bad9ea"/>
<rect x="395.16" y="183.44" width="7.08" height="7.76" fill="#e7ecf0"/>
<rect x="402.24" y="183.44" width="7.08" height="7.76" fill="#f4f1f0"/>
<rect x="409.32" y="183.44" width="7.08" height="7.76" fill="#a7cfe5"/>
<rect x="416.40" y="183.44" width="7.08" height="7.76" fill="#fbd9c6"/>
<rect x="423.48" y="183.44" width="7.08" height="7.76" fill="#fbd9c6"/>
<rect x="430.56" y="183.44" width="7.08" height="7.76" fill="#cce2ef"/>
<rect x="437.64" y="183.44" width="7.08" height="7.76" fill="#cce2ef"/>
<rect x="444.72" y="183.44" width="7.08" height="7.76" fill="#3681bb"/>
<rect x="451.80" y="183.44" width="7.08" height="7.76" fill="#fbd9c6"/>
<rect x="458.88" y="183.44" width="7.08" height="7.76" fill="#fbd9c6"/>
<rect x="465.96" y="183.44" width="7.08" height="7.76" fill="#fbd9c6"/>
<rect x="345.60" y="191.20" width="7.08" height="7.76" fill="#a7cfe5"/>
<rect x="352.68" y="191.20" width="7.08" height="7.76" fill="#f4f1f0"/>
<rect x="359.76" y="191.20" width="7.08" height="7.76" fill="#8a0a22"/>
<rect x="366.84" y="191.20" width="7.08" height="7.76" fill="#f6e9e2"/>
<rect x="373.92" y="191.20" width="7.08" height="7.76" fill="#f9e1d4"/>
<rect x="381.00" y="191.20" width="7.08" height="7.76" fill="#3f8ac0"/>
<rect x="388.08" y="191.20" width="7.08" height="7.76" fill="#fbd9c6"/>
<rect x="395.16" y="191.20" width="7.08" height="7.76" fill="#e5856a"/>
<rect x="402.24" y="191.20" width="7.08" height="7.76" fill="#d9e7ef"/>
<rect x="409.32" y="191.20" width="7.08" height="7.76" fill="#a7cfe5"/>
<rect x="416.40" y="191.20" width="7.08" height="7.76" fill="#cce2ef"/>
<rect x="423.48" y="191.20" width="7.08" height="7.76" fill="#f9c8af"/>
<rect x="430.56" y="191.20" width="7.08" height="7.76" fill="#d9e7ef"/>
<rect x="437.64" y="191.20" width="7.08" height="7.76" fill="#d9e7ef"/>
<rect x="444.72" y="191.20" width="7.08" height="7.76" fill="#95c6e0"/>
<rect x="451.80" y="191.20" width="7.08" height="7.76" fill="#a7cfe5"/>
<rect x="458.88" y="191.20" width="7.08" height="7.76" fill="#a7cfe5"/>
<rect x="465.96" y="191.20" width="7.08" height="7.76" fill="#ef9a7a"/>
<rect x="345.60" y="198.96" width="7.08" height="7.76" fill="#f4a582"/>
<rect x="352.68" y="198.96" width="7.08" height="7.76" fill="#ef9a7a"/>
<rect x="359.76" y="198.96" width="7.08" height="7.76" fill="#f9c8af"/>
<rect x="366.84" y="198.96" width="7.08" height="7.76" fill="#e7ecf0"/>
<rect x="373.92" y="198.96" width="7.08" height="7.76" fill="#61a6d0"/>
<rect x="381.00" y="198.96" width="7.08" height="7.76" fill="#3f8ac0"/>
<rect x="388.08" y="198.96" width="7.08" height="7.76" fill="#f9e1d4"/>
<rect x="395.16" y="198.96" width="7.08" height="7.76" fill="#f4a582"/>
<rect x="402.24" y="198.96" width="7.08" height="7.76" fill="#cce2ef"/>
<rect x="409.32" y="198.96" width="7.08" height="7.76" fill="#d6604d"/>
<rect x="416.40" y="198.96" width="7.08" height="7.76" fill="#bad9ea"/>
<rect x="423.48" y="198.96" width="7.08" height="7.76" fill="#f9c8af"/>
<rect x="430.56" y="198.96" width="7.08" height="7.76" fill="#cce2ef"/>
<rect x="437.64" y="198.96" width="7.08" height="7.76" fill="#f9e1d4"/>
<rect x="444.72" y="198.96" width="7.08" height="7.76" fill="#3681bb"/>
<rect x="451.80" y="198.96" width="7.08" height="7.76" fill="#f4f1f0"/>
<rect x="458.88" y="198.96" width="7.08" height="7.76" fill="#f4a582"/>
<rect x="465.96" y="198.96" width="7.08" height="7.76" fill="#bad9ea"/>
<rect x="345.60" y="206.72" width="7.08" height="7.76" fill="#bad9ea"/>
<rect x="352.68" y="206.72" width="7.08" height="7.76" fill="#a7cfe5"/>
<rect x="359.76" y="206.72" width="7.08" height="7.76" fill="#fbd9c6"/>
<rect x="366.84" y="206.72" width="7.08" height="7.76" fill="#95c6e0"/>
<rect x="373.92" y="206.72" width="7.08" height="7.76" fill="#2e78b6"/>
<rect x="381.00" y="206.72" width="7.08" height="7.76" fill="#509ccb"/>
<rect x="388.08" y="206.72" width="7.08" height="7.76" fill="#cce2ef"/>
<rect x="395.16" y="206.72" width="7.08" height="7.76" fill="#f4a582"/>
<rect x="402.24" y="206.72" width="7.08" height="7.76" fill="#f9c8af"/>
<rect x="409.32" y="206.72" width="7.08" height="7.76" fill="#e07a62"/>
<rect x="416.40" y="206.72" width="7.08" height="7.76" fill="#ef9a7a"/>
<rect x="423.48" y="206.72" width="7.08" height="7.76" fill="#f4f1f0"/>
<rect x="430.56" y="206.72" width="7.08" height="7.76" fill="#a7cfe5"/>
<rect x="437.64" y="206.72" width="7.08" height="7.76" fill="#d9e7ef"/>
<rect x="444.72" y="206.72" width="7.08" height="7.76" fill="#cce2ef"/>
<rect x="451.80" y="206.72" width="7.08" height="7.76" fill="#e07a62"/>
<rect x="458.88" y="206.72" width="7.08" height="7.76" fill="#ef9a7a"/>
<rect x="465.96" y="206.72" width="7.08" height="7.76" fill="#dd715b"/>
<rect x="345.60" y="214.48" width="7.08" height="7.76" fill="#95c6e0"/>
<rect x="352.68" y="214.48" width="7.08" height="7.76" fill="#fbd9c6"/>
<rect x="359.76" y="214.48" width="7.08" height="7.76" fill="#bad9ea"/>
<rect x="366.84" y="214.48" width="7.08" height="7.76" fill="#f9c8af"/>
<rect x="373.92" y="214.48" width="7.08" height="7.76" fill="#d05447"/>
<rect x="381.00" y="214.48" width="7.08" height="7.76" fill="#b2182b"/>
<rect x="388.08" y="214.48" width="7.08" height="7.76" fill="#d05447"/>
<rect x="395.16" y="214.48" width="7.08" height="7.76" fill="#f9e1d4"/>
<rect x="402.24" y="214.48" width="7.08" height="7.76" fill="#cce2ef"/>
<rect x="409.32" y="214.48" width="7.08" height="7.76" fill="#95c6e0"/>
<rect x="416.40" y="214.48" width="7.08" height="7.76" fill="#d9e7ef"/>
<rect x="423.48" y="214.48" width="7.08" height="7.76" fill="#61a6d0"/>
<rect x="430.56" y="214.48" width="7.08" height="7.76" fill="#72b1d6"/>
<rect x="437.64" y="214.48" width="7.08" height="7.76" fill="#cce2ef"/>
<rect x="444.72" y="214.48" width="7.08" height="7.76" fill="#bad9ea"/>
<rect x="451.80" y="214.48" width="7.08" height="7.76" fill="#d9e7ef"/>
<rect x="458.88" y="214.48" width="7.08" height="7.76" fill="#f4f1f0"/>
<rect x="465.96" y="214.48" width="7.08" height="7.76" fill="#f6e9e2"/>
<rect x="345.60" y="222.24" width="7.08" height="7.76" fill="#fbd9c6"/>
<rect x="352.68" y="222.24" width="7.08" height="7.76" fill="#f6b699"/>
<rect x="359.76" y="222.24" width="7.08" height="7.76" fill="#f9e1d4"/>
<rect x="366.84" y="222.24" width="7.08" height="7.76" fill="#f4a582"/>
<rect x="373.92" y="222.24" width="7.08" height="7.76" fill="#f4a582"/>
<rect x="381.00" y="222.24" width="7.08" height="7.76" fill="#f4a582"/>
<rect x="388.08" y="222.24" width="7.08" height="7.76" fill="#db6d58"/>
<rect x="395.16" y="222.24" width="7.08" height="7.76" fill="#db6d58"/>
<rect x="402.24" y="222.24" width="7.08" height="7.76" fill="#db6d58"/>
<rect x="409.32" y="222.24" width="7.08" height="7.76" fill="#95c6e0"/>
<rect x="416.40" y="222.24" width="7.08" height="7.76" fill="#84bcdb"/>
<rect x="423.48" y="222.24" width="7.08" height="7.76" fill="#84bcdb"/>
<rect x="430.56" y="222.24" width="7.08" height="7.76" fill="#95c6e0"/>
<rect x="437.64" y="222.24" width="7.08" height="7.76" fill="#95c6e0"/>
<rect x="444.72" y="222.24" width="7.08" height="7.76" fill="#95c6e0"/>
<rect x="451.80" y="222.24" width="7.08" height="7.76" fill="#cce2ef"/>
<rect x="458.88" y="222.24" width="7.08" height="7.76" fill="#95c6e0"/>
<rect x="465.96" y="222.24" width="7.08" height="7.76" fill="#a7cfe5"/>
<rect x="345.60" y="230.00" width="7.08" height="7.76" fill="#f9c8af"/>
<rect x="352.68" y="230.00" width="7.08" height="7.76" fill="#d9e7ef"/>
<rect x="359.76" y="230.00" width="7.08" height="7.76" fill="#ef9a7a"/>
<rect x="366.84" y="230.00" width="7.08" height="7.76" fill="#ef9a7a"/>
<rect x="373.92" y="230.00" width="7.08" height="7.76" fill="#f4a582"/>
<rect x="381.00" y="230.00" width="7.08" height="7.76" fill="#e5856a"/>
<rect x="388.08" y="230.00" width="7.08" height="7.76" fill="#f4a582"/>
<rect x="395.16" y="230.00" width="7.08" height="7.76" fill="#f4a582"/>
<rect x="402.24" y="230.00" width="7.08" height="7.76" fill="#ef9a7a"/>
<rect x="409.32" y="230.00" width="7.08" height="7.76" fill="#95c6e0"/>
<rect x="416.40" y="230.00" width="7.08" height="7.76" fill="#72b1d6"/>
<rect x="423.48" y="230.00" width="7.08" height="7.76" fill="#e7ecf0"/>
<rect x="430.56" y="230.00" width="7.08" height="7.76" fill="#61a6d0"/>
<rect x="437.64" y="230.00" width="7.08" height="7.76" fill="#61a6d0"/>
<rect x="444.72" y="230.00" width="7.08" height="7.76" fill="#72b1d6"/>
<rect x="451.80" y="230.00" width="7.08" height="7.76" fill="#a7cfe5"/>
<rect x="458.88" y="230.00" width="7.08" height="7.76" fill="#bad9ea"/>
<rect x="465.96" y="230.00" width="7.08" height="7.76" fill="#bad9ea"/>
<rect x="345.60" y="237.76" width="7.08" height="7.76" fill="#f6e9e2"/>
<rect x="352.68" y="237.76" width="7.08" height="7.76" fill="#f9c8af"/>
<rect x="359.76" y="237.76" width="7.08" height="7.76" fill="#f4a582"/>
<rect x="366.84" y="237.76" width="7.08" height="7.76" fill="#f9c8af"/>
<rect x="373.92" y="237.76" width="7.08" height="7.76" fill="#d6604d"/>
<rect x="381.00" y="237.76" width="7.08" height="7.76" fill="#ea9072"/>
<rect x="388.08" y="237.76" width="7.08" height="7.76" fill="#f6b699"/>
<rect x="395.16" y="237.76" width="7.08" height="7.76" fill="#e5856a"/>
<rect x="402.24" y="237.76" width="7.08" height="7.76" fill="#f4a582"/>
<rect x="409.32" y="237.76" width="7.08" height="7.76" fill="#72b1d6"/>
<rect x="416.40" y="237.76" width="7.08" height="7.76" fill="#a7cfe5"/>
<rect x="423.48" y="237.76" width="7.08" height="7.76" fill="#a7cfe5"/>
<rect x="430.56" y="237.76" width="7.08" height="7.76" fill="#61a6d0"/>
<rect x="437.64" y="237.76" width="7.08" height="7.76" fill="#a7cfe5"/>
<rect x="444.72" y="237.76" width="7.08" height="7.76" fill="#95c6e0"/>
<rect x="451.80" y="237.76" width="7.08" height="7.76" fill="#a7cfe5"/>
<rect x="458.88" y="237.76" width="7.08" height="7.76" fill="#cce2ef"/>
<rect x="465.96" y="237.76" width="7.08" height="7.76" fill="#cce2ef"/>
<rect x="345.60" y="245.52" width="7.08" height="7.76" fill="#fbd9c6"/>
<rect x="352.68" y="245.52" width="7.08" height="7.76" fill="#f9c8af"/>
<rect x="359.76" y="245.52" width="7.08" height="7.76" fill="#f4a582"/>
<rect x="366.84" y="245.52" width="7.08" height="7.76" fill="#f9c8af"/>
<rect x="373.92" y="245.52" width="7.08" height="7.76" fill="#d6604d"/>
<rect x="381.00" y="245.52" width="7.08" height="7.76" fill="#e5856a"/>
<rect x="388.08" y="245.52" width="7.08" height="7.76" fill="#f4a582"/>
<rect x="395.16" y="245.52" width="7.08" height="7.76" fill="#d96954"/>
<rect x="402.24" y="245.52" width="7.08" height="7.76" fill="#f4a582"/>
<rect x="409.32" y="245.52" width="7.08" height="7.76" fill="#72b1d6"/>
<rect x="416.40" y="245.52" width="7.08" height="7.76" fill="#a7cfe5"/>
<rect x="423.48" y="245.52" width="7.08" height="7.76" fill="#a7cfe5"/>
<rect x="430.56" y="245.52" width="7.08" height="7.76" fill="#72b1d6"/>
<rect x="437.64" y="245.52" width="7.08" height="7.76" fill="#95c6e0"/>
<rect x="444.72" y="245.52" width="7.08" height="7.76" fill="#84bcdb"/>
<rect x="451.80" y="245.52" width="7.08" height="7.76" fill="#95c6e0"/>
<rect x="458.88" y="245.52" width="7.08" height="7.76" fill="#cce2ef"/>
<rect x="465.96" y="245.52" width="7.08" height="7.76" fill="#cce2ef"/>
<rect x="345.60" y="253.28" width="7.08" height="7.76" fill="#61a6d0"/>
<rect x="352.68" y="253.28" width="7.08" height="7.76" fill="#f4f1f0"/>
<rect x="359.76" y="253.28" width="7.08" height="7.76" fill="#b2182b"/>
<rect x="366.84" y="253.28" width="7.08" height="7.76" fill="#e7ecf0"/>
<rect x="373.92" y="253.28" width="7.08" height="7.76" fill="#d9e7ef"/>
<rect x="381.00" y="253.28" width="7.08" height="7.76" fill="#cce2ef"/>
<rect x="388.08" y="253.28" width="7.08" height="7.76" fill="#f9c8af"/>
<rect x="395.16" y="253.28" width="7.08" height="7.76" fill="#cce2ef"/>
<rect x="402.24" y="253.28" width="7.08" height="7.76" fill="#cce2ef"/>
<rect x="409.32" y="253.28" width="7.08" height="7.76" fill="#bad9ea"/>
<rect x="416.40" y="253.28" width="7.08" height="7.76" fill="#f9e1d4"/>
<rect x="423.48" y="253.28" width="7.08" height="7.76" fill="#174f8a"/>
<rect x="430.56" y="253.28" width="7.08" height="7.76" fill="#d96954"/>
<rect x="437.64" y="253.28" width="7.08" height="7.76" fill="#f9e1d4"/>
<rect x="444.72" y="253.28" width="7.08" height="7.76" fill="#fbd9c6"/>
<rect x="451.80" y="253.28" width="7.08" height="7.76" fill="#f6b699"/>
<rect x="458.88" y="253.28" width="7.08" height="7.76" fill="#a7cfe5"/>
<rect x="465.96" y="253.28" width="7.08" height="7.76" fill="#f9c8af"/>
<rect x="345.60" y="261.04" width="7.08" height="7.76" fill="#84bcdb"/>
<rect x="352.68" y="261.04" width="7.08" height="7.76" fill="#f6b699"/>
<rect x="359.76" y="261.04" width="7.08" height="7.76" fill="#b2182b"/>
<rect x="366.84" y="261.04" width="7.08" height="7.76" fill="#d9e7ef"/>
<rect x="373.92" y="261.04" width="7.08" height="7.76" fill="#fbd9c6"/>
<rect x="381.00" y="261.04" width="7.08" height="7.76" fill="#509ccb"/>
<rect x="388.08" y="261.04" width="7.08" height="7.76" fill="#f6b699"/>
<rect x="395.16" y="261.04" width="7.08" height="7.76" fill="#84bcdb"/>
<rect x="402.24" y="261.04" width="7.08" height="7.76" fill="#f4a582"/>
<rect x="409.32" y="261.04" width="7.08" height="7.76" fill="#a7cfe5"/>
<rect x="416.40" y="261.04" width="7.08" height="7.76" fill="#d9e7ef"/>
<rect x="423.48" y="261.04" width="7.08" height="7.76" fill="#61a6d0"/>
<rect x="430.56" y="261.04" width="7.08" height="7.76" fill="#f9e1d4"/>
<rect x="437.64" y="261.04" width="7.08" height="7.76" fill="#d6604d"/>
<rect x="444.72" y="261.04" width="7.08" height="7.76" fill="#f9e1d4"/>
<rect x="451.80" y="261.04" width="7.08" height="7.76" fill="#f9e1d4"/>
<rect x="458.88" y="261.04" width="7.08" height="7.76" fill="#a7cfe5"/>
<rect x="465.96" y="261.04" width="7.08" height="7.76" fill="#d9e7ef"/>
<rect x="345.60" y="268.80" width="7.08" height="7.76" fill="#f4a582"/>
<rect x="352.68" y="268.80" width="7.08" height="7.76" fill="#e5856a"/>
<rect x="359.76" y="268.80" width="7.08" height="7.76" fill="#f9c8af"/>
<rect x="366.84" y="268.80" width="7.08" height="7.76" fill="#509ccb"/>
<rect x="373.92" y="268.80" width="7.08" height="7.76" fill="#bad9ea"/>
<rect x="381.00" y="268.80" width="7.08" height="7.76" fill="#bad9ea"/>
<rect x="388.08" y="268.80" width="7.08" height="7.76" fill="#f6b699"/>
<rect x="395.16" y="268.80" width="7.08" height="7.76" fill="#d9e7ef"/>
<rect x="402.24" y="268.80" width="7.08" height="7.76" fill="#b2182b"/>
<rect x="409.32" y="268.80" width="7.08" height="7.76" fill="#f6e9e2"/>
<rect x="416.40" y="268.80" width="7.08" height="7.76" fill="#72b1d6"/>
<rect x="423.48" y="268.80" width="7.08" height="7.76" fill="#d9e7ef"/>
<rect x="430.56" y="268.80" width="7.08" height="7.76" fill="#f9e1d4"/>
<rect x="437.64" y="268.80" width="7.08" height="7.76" fill="#f4f1f0"/>
<rect x="444.72" y="268.80" width="7.08" height="7.76" fill="#f9e1d4"/>
<rect x="451.80" y="268.80" width="7.08" height="7.76" fill="#f9e1d4"/>
<rect x="458.88" y="268.80" width="7.08" height="7.76" fill="#f9c8af"/>
<rect x="465.96" y="268.80" width="7.08" height="7.76" fill="#72b1d6"/>
<rect x="345.60" y="276.56" width="7.08" height="7.76" fill="#f6e9e2"/>
<rect x="352.68" y="276.56" width="7.08" height="7.76" fill="#f4a582"/>
<rect x="359.76" y="276.56" width="7.08" height="7.76" fill="#f4a582"/>
<rect x="366.84" y="276.56" width="7.08" height="7.76" fill="#f6b699"/>
<rect x="373.92" y="276.56" width="7.08" height="7.76" fill="#2e78b6"/>
<rect x="381.00" y="276.56" width="7.08" height="7.76" fill="#f6e9e2"/>
<rect x="388.08" y="276.56" width="7.08" height="7.76" fill="#f9c8af"/>
<rect x="395.16" y="276.56" width="7.08" height="7.76" fill="#b2182b"/>
<rect x="402.24" y="276.56" width="7.08" height="7.76" fill="#f9e1d4"/>
<rect x="409.32" y="276.56" width="7.08" height="7.76" fill="#f6e9e2"/>
<rect x="416.40" y="276.56" width="7.08" height="7.76" fill="#f4f1f0"/>
<rect x="423.48" y="276.56" width="7.08" height="7.76" fill="#72b1d6"/>
<rect x="430.56" y="276.56" width="7.08" height="7.76" fill="#72b1d6"/>
<rect x="437.64" y="276.56" width="7.08" height="7.76" fill="#bad9ea"/>
<rect x="444.72" y="276.56" width="7.08" height="7.76" fill="#f9e1d4"/>
<rect x="451.80" y="276.56" width="7.08" height="7.76" fill="#a7cfe5"/>
<rect x="458.88" y="276.56" width="7.08" height="7.76" fill="#f4f1f0"/>
<rect x="465.96" y="276.56" width="7.08" height="7.76" fill="#f9c8af"/>
<rect x="345.60" y="284.32" width="7.08" height="7.76" fill="#be3036"/>
<rect x="352.68" y="284.32" width="7.08" height="7.76" fill="#ca4842"/>
<rect x="359.76" y="284.32" width="7.08" height="7.76" fill="#ca4842"/>
<rect x="366.84" y="284.32" width="7.08" height="7.76" fill="#f9c8af"/>
<rect x="373.92" y="284.32" width="7.08" height="7.76" fill="#f9e1d4"/>
<rect x="381.00" y="284.32" width="7.08" height="7.76" fill="#f9c8af"/>
<rect x="388.08" y="284.32" width="7.08" height="7.76" fill="#fbd9c6"/>
<rect x="395.16" y="284.32" width="7.08" height="7.76" fill="#f6e9e2"/>
<rect x="402.24" y="284.32" width="7.08" height="7.76" fill="#f9e1d4"/>
<rect x="409.32" y="284.32" width="7.08" height="7.76" fill="#bad9ea"/>
<rect x="416.40" y="284.32" width="7.08" height="7.76" fill="#bad9ea"/>
<rect x="423.48" y="284.32" width="7.08" height="7.76" fill="#a7cfe5"/>
<rect x="430.56" y="284.32" width="7.08" height="7.76" fill="#95c6e0"/>
<rect x="437.64" y="284.32" width="7.08" height="7.76" fill="#95c6e0"/>
<rect x="444.72" y="284.32" width="7.08" height="7.76" fill="#95c6e0"/>
<rect x="451.80" y="284.32" width="7.08" height="7.76" fill="#95c6e0"/>
<rect x="458.88" y="284.32" width="7.08" height="7.76" fill="#95c6e0"/>
<rect x="465.96" y="284.32" width="7.08" height="7.76" fill="#95c6e0"/>
<rect x="345.60" y="292.08" width="7.08" height="7.76" fill="#a7cfe5"/>
<rect x="352.68" y="292.08" width="7.08" height="7.76" fill="#f6b699"/>
<rect x="359.76" y="292.08" width="7.08" height="7.76" fill="#b2182b"/>
<rect x="366.84" y="292.08" width="7.08" height="7.76" fill="#f9c8af"/>
<rect x="373.92" y="292.08" width="7.08" height="7.76" fill="#f6e9e2"/>
<rect x="381.00" y="292.08" width="7.08" height="7.76" fill="#e5856a"/>
<rect x="388.08" y="292.08" width="7.08" height="7.76" fill="#e5856a"/>
<rect x="395.16" y="292.08" width="7.08" height="7.76" fill="#fbd9c6"/>
<rect x="402.24" y="292.08" width="7.08" height="7.76" fill="#f6b699"/>
<rect x="409.32" y="292.08" width="7.08" height="7.76" fill="#f4f1f0"/>
<rect x="416.40" y="292.08" width="7.08" height="7.76" fill="#72b1d6"/>
<rect x="423.48" y="292.08" width="7.08" height="7.76" fill="#95c6e0"/>
<rect x="430.56" y="292.08" width="7.08" height="7.76" fill="#e7ecf0"/>
<rect x="437.64" y="292.08" width="7.08" height="7.76" fill="#95c6e0"/>
<rect x="444.72" y="292.08" width="7.08" height="7.76" fill="#61a6d0"/>
<rect x="451.80" y="292.08" width="7.08" height="7.76" fill="#f4f1f0"/>
<rect x="458.88" y="292.08" width="7.08" height="7.76" fill="#a7cfe5"/>
<rect x="465.96" y="292.08" width="7.08" height="7.76" fill="#cce2ef"/>
<rect x="345.60" y="299.84" width="7.08" height="7.76" fill="#f9e1d4"/>
<rect x="352.68" y="299.84" width="7.08" height="7.76" fill="#f6b699"/>
<rect x="359.76" y="299.84" width="7.08" height="7.76" fill="#be3036"/>
<rect x="366.84" y="299.84" width="7.08" height="7.76" fill="#d9e7ef"/>
<rect x="373.92" y="299.84" width="7.08" height="7.76" fill="#d9e7ef"/>
<rect x="381.00" y="299.84" width="7.08" height="7.76" fill="#f6b699"/>
<rect x="388.08" y="299.84" width="7.08" height="7.76" fill="#f4a582"/>
<rect x="395.16" y="299.84" width="7.08" height="7.76" fill="#ea9072"/>
<rect x="402.24" y="299.84" width="7.08" height="7.76" fill="#ef9a7a"/>
<rect x="409.32" y="299.84" width="7.08" height="7.76" fill="#cce2ef"/>
<rect x="416.40" y="299.84" width="7.08" height="7.76" fill="#3681bb"/>
<rect x="423.48" y="299.84" width="7.08" height="7.76" fill="#3f8ac0"/>
<rect x="430.56" y="299.84" width="7.08" height="7.76" fill="#f4f1f0"/>
<rect x="437.64" y="299.84" width="7.08" height="7.76" fill="#f6b699"/>
<rect x="444.72" y="299.84" width="7.08" height="7.76" fill="#61a6d0"/>
<rect x="451.80" y="299.84" width="7.08" height="7.76" fill="#cce2ef"/>
<rect x="458.88" y="299.84" width="7.08" height="7.76" fill="#f9e1d4"/>
<rect x="465.96" y="299.84" width="7.08" height="7.76" fill="#f9e1d4"/>
<rect x="345.60" y="307.60" width="7.08" height="7.76" fill="#0b3a74"/>
<rect x="352.68" y="307.60" width="7.08" height="7.76" fill="#f6e9e2"/>
<rect x="359.76" y="307.60" width="7.08" height="7.76" fill="#d9e7ef"/>
<rect x="366.84" y="307.60" width="7.08" height="7.76" fill="#d9e7ef"/>
<rect x="373.92" y="307.60" width="7.08" height="7.76" fill="#f4a582"/>
<rect x="381.00" y="307.60" width="7.08" height="7.76" fill="#f4a582"/>
<rect x="388.08" y="307.60" width="7.08" height="7.76" fill="#fbd9c6"/>
<rect x="395.16" y="307.60" width="7.08" height="7.76" fill="#e5856a"/>
<rect x="402.24" y="307.60" width="7.08" height="7.76" fill="#fbd9c6"/>
<rect x="409.32" y="307.60" width="7.08" height="7.76" fill="#f4a582"/>
<rect x="416.40" y="307.60" width="7.08" height="7.76" fill="#2e78b6"/>
<rect x="423.48" y="307.60" width="7.08" height="7.76" fill="#f6b699"/>
<rect x="430.56" y="307.60" width="7.08" height="7.76" fill="#f4f1f0"/>
<rect x="437.64" y="307.60" width="7.08" height="7.76" fill="#bad9ea"/>
<rect x="444.72" y="307.60" width="7.08" height="7.76" fill="#f6e9e2"/>
<rect x="451.80" y="307.60" width="7.08" height="7.76" fill="#f9c8af"/>
<rect x="458.88" y="307.60" width="7.08" height="7.76" fill="#cce2ef"/>
<rect x="465.96" y="307.60" width="7.08" height="7.76" fill="#f6e9e2"/>
<rect x="345.60" y="315.36" width="7.08" height="7.76" fill="#3681bb"/>
<rect x="352.68" y="315.36" width="7.08" height="7.76" fill="#d9e7ef"/>
<rect x="359.76" y="315.36" width="7.08" height="7.76" fill="#bad9ea"/>
<rect x="366.84" y="315.36" width="7.08" height="7.76" fill="#cce2ef"/>
<rect x="373.92" y="315.36" width="7.08" height="7.76" fill="#f9e1d4"/>
<rect x="381.00" y="315.36" width="7.08" height="7.76" fill="#d9e7ef"/>
<rect x="388.08" y="315.36" width="7.08" height="7.76" fill="#d9e7ef"/>
<rect x="395.16" y="315.36" width="7.08" height="7.76" fill="#ef9a7a"/>
<rect x="402.24" y="315.36" width="7.08" height="7.76" fill="#f9e1d4"/>
<rect x="409.32" y="315.36" width="7.08" height="7.76" fill="#f6e9e2"/>
<rect x="416.40" y="315.36" width="7.08" height="7.76" fill="#4793c6"/>
<rect x="423.48" y="315.36" width="7.08" height="7.76" fill="#f4f1f0"/>
<rect x="430.56" y="315.36" width="7.08" height="7.76" fill="#f6e9e2"/>
<rect x="437.64" y="315.36" width="7.08" height="7.76" fill="#d9e7ef"/>
<rect x="444.72" y="315.36" width="7.08" height="7.76" fill="#f4f1f0"/>
<rect x="451.80" y="315.36" width="7.08" height="7.76" fill="#b2182b"/>
<rect x="458.88" y="315.36" width="7.08" height="7.76" fill="#fbd9c6"/>
<rect x="465.96" y="315.36" width="7.08" height="7.76" fill="#d6604d"/>
<rect x="345.60" y="323.12" width="7.08" height="7.76" fill="#509ccb"/>
<rect x="352.68" y="323.12" width="7.08" height="7.76" fill="#f6b699"/>
<rect x="359.76" y="323.12" width="7.08" height="7.76" fill="#e7ecf0"/>
<rect x="366.84" y="323.12" width="7.08" height="7.76" fill="#95c6e0"/>
<rect x="373.92" y="323.12" width="7.08" height="7.76" fill="#f4a582"/>
<rect x="381.00" y="323.12" width="7.08" height="7.76" fill="#f6e9e2"/>
<rect x="388.08" y="323.12" width="7.08" height="7.76" fill="#a7cfe5"/>
<rect x="395.16" y="323.12" width="7.08" height="7.76" fill="#dd715b"/>
<rect x="402.24" y="323.12" width="7.08" height="7.76" fill="#f9e1d4"/>
<rect x="409.32" y="323.12" width="7.08" height="7.76" fill="#cce2ef"/>
<rect x="416.40" y="323.12" width="7.08" height="7.76" fill="#4793c6"/>
<rect x="423.48" y="323.12" width="7.08" height="7.76" fill="#f4f1f0"/>
<rect x="430.56" y="323.12" width="7.08" height="7.76" fill="#f9c8af"/>
<rect x="437.64" y="323.12" width="7.08" height="7.76" fill="#d9e7ef"/>
<rect x="444.72" y="323.12" width="7.08" height="7.76" fill="#fbd9c6"/>
<rect x="451.80" y="323.12" width="7.08" height="7.76" fill="#fbd9c6"/>
<rect x="458.88" y="323.12" width="7.08" height="7.76" fill="#bad9ea"/>
<rect x="465.96" y="323.12" width="7.08" height="7.76" fill="#ef9a7a"/>
<rect x="345.60" y="330.88" width="7.08" height="7.76" fill="#2e78b6"/>
<rect x="352.68" y="330.88" width="7.08" height="7.76" fill="#d9e7ef"/>
<rect x="359.76" y="330.88" width="7.08" height="7.76" fill="#f4f1f0"/>
<rect x="366.84" y="330.88" width="7.08" height="7.76" fill="#d9e7ef"/>
<rect x="373.92" y="330.88" width="7.08" height="7.76" fill="#f9c8af"/>
<rect x="381.00" y="330.88" width="7.08" height="7.76" fill="#fbd9c6"/>
<rect x="388.08" y="330.88" width="7.08" height="7.76" fill="#f6e9e2"/>
<rect x="395.16" y="330.88" width="7.08" height="7.76" fill="#ca4842"/>
<rect x="402.24" y="330.88" width="7.08" height="7.76" fill="#f6b699"/>
<rect x="409.32" y="330.88" width="7.08" height="7.76" fill="#cce2ef"/>
<rect x="416.40" y="330.88" width="7.08" height="7.76" fill="#3681bb"/>
<rect x="423.48" y="330.88" width="7.08" height="7.76" fill="#f4f1f0"/>
<rect x="430.56" y="330.88" width="7.08" height="7.76" fill="#f6e9e2"/>
<rect x="437.64" y="330.88" width="7.08" height="7.76" fill="#d9e7ef"/>
<rect x="444.72" y="330.88" width="7.08" height="7.76" fill="#f9e1d4"/>
<rect x="451.80" y="330.88" width="7.08" height="7.76" fill="#f4a582"/>
<rect x="458.88" y="330.88" width="7.08" height="7.76" fill="#cce2ef"/>
<rect x="465.96" y="330.88" width="7.08" height="7.76" fill="#d96954"/>
<rect x="345.60" y="338.64" width="7.08" height="7.76" fill="#509ccb"/>
<rect x="352.68" y="338.64" width="7.08" height="7.76" fill="#d9e7ef"/>
<rect x="359.76" y="338.64" width="7.08" height="7.76" fill="#cce2ef"/>
<rect x="366.84" y="338.64" width="7.08" height="7.76" fill="#a7cfe5"/>
<rect x="373.92" y="338.64" width="7.08" height="7.76" fill="#f9c8af"/>
<rect x="381.00" y="338.64" width="7.08" height="7.76" fill="#f9e1d4"/>
<rect x="388.08" y="338.64" width="7.08" height="7.76" fill="#f6e9e2"/>
<rect x="395.16" y="338.64" width="7.08" height="7.76" fill="#e07a62"/>
<rect x="402.24" y="338.64" width="7.08" height="7.76" fill="#f6b699"/>
<rect x="409.32" y="338.64" width="7.08" height="7.76" fill="#84bcdb"/>
<rect x="416.40" y="338.64" width="7.08" height="7.76" fill="#509ccb"/>
<rect x="423.48" y="338.64" width="7.08" height="7.76" fill="#a7cfe5"/>
<rect x="430.56" y="338.64" width="7.08" height="7.76" fill="#f9e1d4"/>
<rect x="437.64" y="338.64" width="7.08" height="7.76" fill="#d9e7ef"/>
<rect x="444.72" y="338.64" width="7.08" height="7.76" fill="#dd715b"/>
<rect x="451.80" y="338.64" width="7.08" height="7.76" fill="#dd715b"/>
<rect x="458.88" y="338.64" width="7.08" height="7.76" fill="#cce2ef"/>
<rect x="465.96" y="338.64" width="7.08" height="7.76" fill="#d96954"/>
<rect x="345.60" y="346.40" width="7.08" height="7.76" fill="#a7cfe5"/>
<rect x="352.68" y="346.40" width="7.08" height="7.76" fill="#f6e9e2"/>
<rect x="359.76" y="346.40" width="7.08" height="7.76" fill="#bad9ea"/>
<rect x="366.84" y="346.40" width="7.08" height="7.76" fill="#f4f1f0"/>
<rect x="373.92" y="346.40" width="7.08" height="7.76" fill="#f9c8af"/>
<rect x="381.00" y="346.40" width="7.08" height="7.76" fill="#fbd9c6"/>
<rect x="388.08" y="346.40" width="7.08" height="7.76" fill="#f6b699"/>
<rect x="395.16" y="346.40" width="7.08" height="7.76" fill="#dd715b"/>
<rect x="402.24" y="346.40" width="7.08" height="7.76" fill="#a51328"/>
<rect x="409.32" y="346.40" width="7.08" height="7.76" fill="#cce2ef"/>
<rect x="416.40" y="346.40" width="7.08" height="7.76" fill="#84bcdb"/>
<rect x="423.48" y="346.40" width="7.08" height="7.76" fill="#4793c6"/>
<rect x="430.56" y="346.40" width="7.08" height="7.76" fill="#cce2ef"/>
<rect x="437.64" y="346.40" width="7.08" height="7.76" fill="#fbd9c6"/>
<rect x="444.72" y="346.40" width="7.08" height="7.76" fill="#f9e1d4"/>
<rect x="451.80" y="346.40" width="7.08" height="7.76" fill="#fbd9c6"/>
<rect x="458.88" y="346.40" width="7.08" height="7.76" fill="#95c6e0"/>
<rect x="465.96" y="346.40" width="7.08" height="7.76" fill="#bad9ea"/>
<rect x="345.60" y="354.16" width="7.08" height="7.76" fill="#2e78b6"/>
<rect x="352.68" y="354.16" width="7.08" height="7.76" fill="#f6b699"/>
<rect x="359.76" y="354.16" width="7.08" height="7.76" fill="#f6b699"/>
<rect x="366.84" y="354.16" width="7.08" height="7.76" fill="#d9e7ef"/>
<rect x="373.92" y="354.16" width="7.08" height="7.76" fill="#dd715b"/>
<rect x="381.00" y="354.16" width="7.08" height="7.76" fill="#fbd9c6"/>
<rect x="388.08" y="354.16" width="7.08" height="7.76" fill="#e7ecf0"/>
<rect x="395.16" y="354.16" width="7.08" height="7.76" fill="#e5856a"/>
<rect x="402.24" y="354.16" width="7.08" height="7.76" fill="#ea9072"/>
<rect x="409.32" y="354.16" width="7.08" height="7.76" fill="#a7cfe5"/>
<rect x="416.40" y="354.16" width="7.08" height="7.76" fill="#61a6d0"/>
<rect x="423.48" y="354.16" width="7.08" height="7.76" fill="#cce2ef"/>
<rect x="430.56" y="354.16" width="7.08" height="7.76" fill="#72b1d6"/>
<rect x="437.64" y="354.16" width="7.08" height="7.76" fill="#cce2ef"/>
<rect x="444.72" y="354.16" width="7.08" height="7.76" fill="#f9e1d4"/>
<rect x="451.80" y="354.16" width="7.08" height="7.76" fill="#f4a582"/>
<rect x="458.88" y="354.16" width="7.08" height="7.76" fill="#a7cfe5"/>
<rect x="465.96" y="354.16" width="7.08" height="7.76" fill="#fbd9c6"/>
<rect x="345.60" y="361.92" width="7.08" height="7.76" fill="#95c6e0"/>
<rect x="352.68" y="361.92" width="7.08" height="7.76" fill="#f9e1d4"/>
<rect x="359.76" y="361.92" width="7.08" height="7.76" fill="#f9e1d4"/>
<rect x="366.84" y="361.92" width="7.08" height="7.76" fill="#d9e7ef"/>
<rect x="373.92" y="361.92" width="7.08" height="7.76" fill="#dd715b"/>
<rect x="381.00" y="361.92" width="7.08" height="7.76" fill="#f4f1f0"/>
<rect x="388.08" y="361.92" width="7.08" height="7.76" fill="#ef9a7a"/>
<rect x="395.16" y="361.92" width="7.08" height="7.76" fill="#e5856a"/>
<rect x="402.24" y="361.92" width="7.08" height="7.76" fill="#dd715b"/>
<rect x="409.32" y="361.92" width="7.08" height="7.76" fill="#cce2ef"/>
<rect x="416.40" y="361.92" width="7.08" height="7.76" fill="#3681bb"/>
<rect x="423.48" y="361.92" width="7.08" height="7.76" fill="#cce2ef"/>
<rect x="430.56" y="361.92" width="7.08" height="7.76" fill="#cce2ef"/>
<rect x="437.64" y="361.92" width="7.08" height="7.76" fill="#61a6d0"/>
<rect x="444.72" y="361.92" width="7.08" height="7.76" fill="#f9e1d4"/>
<rect x="451.80" y="361.92" width="7.08" height="7.76" fill="#f9e1d4"/>
<rect x="458.88" y="361.92" width="7.08" height="7.76" fill="#a7cfe5"/>
<rect x="465.96" y="361.92" width="7.08" height="7.76" fill="#ef9a7a"/>
<rect x="345.60" y="369.68" width="7.08" height="7.76" fill="#95c6e0"/>
<rect x="352.68" y="369.68" width="7.08" height="7.76" fill="#cce2ef"/>
<rect x="359.76" y="369.68" width="7.08" height="7.76" fill="#a7cfe5"/>
<rect x="366.84" y="369.68" width="7.08" height="7.76" fill="#b2182b"/>
<rect x="373.92" y="369.68" width="7.08" height="7.76" fill="#d96954"/>
<rect x="381.00" y="369.68" width="7.08" height="7.76" fill="#d96954"/>
<rect x="388.08" y="369.68" width="7.08" height="7.76" fill="#f6e9e2"/>
<rect x="395.16" y="369.68" width="7.08" height="7.76" fill="#fbd9c6"/>
<rect x="402.24" y="369.68" width="7.08" height="7.76" fill="#fbd9c6"/>
<rect x="409.32" y="369.68" width="7.08" height="7.76" fill="#95c6e0"/>
<rect x="416.40" y="369.68" width="7.08" height="7.76" fill="#a7cfe5"/>
<rect x="423.48" y="369.68" width="7.08" height="7.76" fill="#72b1d6"/>
<rect x="430.56" y="369.68" width="7.08" height="7.76" fill="#f6e9e2"/>
<rect x="437.64" y="369.68" width="7.08" height="7.76" fill="#f9c8af"/>
<rect x="444.72" y="369.68" width="7.08" height="7.76" fill="#d9e7ef"/>
<rect x="451.80" y="369.68" width="7.08" height="7.76" fill="#d9e7ef"/>
<rect x="458.88" y="369.68" width="7.08" height="7.76" fill="#d9e7ef"/>
<rect x="465.96" y="369.68" width="7.08" height="7.76" fill="#72b1d6"/>
<rect x="345.60" y="377.44" width="7.08" height="7.76" fill="#509ccb"/>
<rect x="352.68" y="377.44" width="7.08" height="7.76" fill="#84bcdb"/>
<rect x="359.76" y="377.44" width="7.08" height="7.76" fill="#84bcdb"/>
<rect x="366.84" y="377.44" width="7.08" height="7.76" fill="#f6b699"/>
<rect x="373.92" y="377.44" width="7.08" height="7.76" fill="#f6b699"/>
<rect x="381.00" y="377.44" width="7.08" height="7.76" fill="#f6b699"/>
<rect x="388.08" y="377.44" width="7.08" height="7.76" fill="#f9c8af"/>
<rect x="395.16" y="377.44" width="7.08" height="7.76" fill="#f6b699"/>
<rect x="402.24" y="377.44" width="7.08" height="7.76" fill="#f9c8af"/>
<rect x="409.32" y="377.44" width="7.08" height="7.76" fill="#95c6e0"/>
<rect x="416.40" y="377.44" width="7.08" height="7.76" fill="#509ccb"/>
<rect x="423.48" y="377.44" width="7.08" height="7.76" fill="#95c6e0"/>
<rect x="430.56" y="377.44" width="7.08" height="7.76" fill="#fbd9c6"/>
<rect x="437.64" y="377.44" width="7.08" height="7.76" fill="#fbd9c6"/>
<rect x="444.72" y="377.44" width="7.08" height="7.76" fill="#f9e1d4"/>
<rect x="451.80" y="377.44" width="7.08" height="7.76" fill="#d9e7ef"/>
<rect x="458.88" y="377.44" width="7.08" height="7.76" fill="#f9e1d4"/>
<rect x="465.96" y="377.44" width="7.08" height="7.76" fill="#fbd9c6"/>
<rect x="345.60" y="385.20" width="7.08" height="7.76" fill="#95c6e0"/>
<rect x="352.68" y="385.20" width="7.08" height="7.76" fill="#95c6e0"/>
<rect x="359.76" y="385.20" width="7.08" height="7.76" fill="#84bcdb"/>
<rect x="366.84" y="385.20" width="7.08" height="7.76" fill="#e5856a"/>
<rect x="373.92" y="385.20" width="7.08" height="7.76" fill="#f4a582"/>
<rect x="381.00" y="385.20" width="7.08" height="7.76" fill="#ef9a7a"/>
<rect x="388.08" y="385.20" width="7.08" height="7.76" fill="#d9e7ef"/>
<rect x="395.16" y="385.20" width="7.08" height="7.76" fill="#fbd9c6"/>
<rect x="402.24" y="385.20" width="7.08" height="7.76" fill="#fbd9c6"/>
<rect x="409.32" y="385.20" width="7.08" height="7.76" fill="#95c6e0"/>
<rect x="416.40" y="385.20" width="7.08" height="7.76" fill="#95c6e0"/>
<rect x="423.48" y="385.20" width="7.08" height="7.76" fill="#84bcdb"/>
<rect x="430.56" y="385.20" width="7.08" height="7.76" fill="#dd715b"/>
<rect x="437.64" y="385.20" width="7.08" height="7.76" fill="#ef9a7a"/>
<rect x="444.72" y="385.20" width="7.08" height="7.76" fill="#ef9a7a"/>
<rect x="451.80" y="385.20" width="7.08" height="7.76" fill="#f6e9e2"/>
<rect x="458.88" y="385.20" width="7.08" height="7.76" fill="#f6e9e2"/>
<rect x="465.96" y="385.20" width="7.08" height="7.76" fill="#f6e9e2"/>
<rect x="345.60" y="392.96" width="7.08" height="7.76" fill="#dd715b"/>
<rect x="352.68" y="392.96" width="7.08" height="7.76" fill="#a7cfe5"/>
<rect x="359.76" y="392.96" width="7.08" height="7.76" fill="#d9e7ef"/>
<rect x="366.84" y="392.96" width="7.08" height="7.76" fill="#f6e9e2"/>
<rect x="373.92" y="392.96" width="7.08" height="7.76" fill="#f6e9e2"/>
<rect x="381.00" y="392.96" width="7.08" height="7.76" fill="#f6e9e2"/>
<rect x="388.08" y="392.96" width="7.08" height="7.76" fill="#fbd9c6"/>
<rect x="395.16" y="392.96" width="7.08" height="7.76" fill="#e5856a"/>
<rect x="402.24" y="392.96" width="7.08" height="7.76" fill="#f4a582"/>
<rect x="409.32" y="392.96" width="7.08" height="7.76" fill="#509ccb"/>
<rect x="416.40" y="392.96" width="7.08" height="7.76" fill="#cce2ef"/>
<rect x="423.48" y="392.96" width="7.08" height="7.76" fill="#61a6d0"/>
<rect x="430.56" y="392.96" width="7.08" height="7.76" fill="#72b1d6"/>
<rect x="437.64" y="392.96" width="7.08" height="7.76" fill="#f6e9e2"/>
<rect x="444.72" y="392.96" width="7.08" height="7.76" fill="#72b1d6"/>
<rect x="451.80" y="392.96" width="7.08" height="7.76" fill="#e5856a"/>
<rect x="458.88" y="392.96" width="7.08" height="7.76" fill="#d9e7ef"/>
<rect x="465.96" y="392.96" width="7.08" height="7.76" fill="#dd715b"/>
<rect x="345.60" y="400.72" width="7.08" height="7.76" fill="#d9e7ef"/>
<rect x="352.68" y="400.72" width="7.08" height="7.76" fill="#cce2ef"/>
<rect x="359.76" y="400.72" width="7.08" height="7.76" fill="#d9e7ef"/>
<rect x="366.84" y="400.72" width="7.08" height="7.76" fill="#f9e1d4"/>
<rect x="373.92" y="400.72" width="7.08" height="7.76" fill="#f6e9e2"/>
<rect x="381.00" y="400.72" width="7.08" height="7.76" fill="#f6e9e2"/>
<rect x="388.08" y="400.72" width="7.08" height="7.76" fill="#e5856a"/>
<rect x="395.16" y="400.72" width="7.08" height="7.76" fill="#e07a62"/>
<rect x="402.24" y="400.72" width="7.08" height="7.76" fill="#f4a582"/>
<rect x="409.32" y="400.72" width="7.08" height="7.76" fill="#4793c6"/>
<rect x="416.40" y="400.72" width="7.08" height="7.76" fill="#61a6d0"/>
<rect x="423.48" y="400.72" width="7.08" height="7.76" fill="#3681bb"/>
<rect x="430.56" y="400.72" width="7.08" height="7.76" fill="#f4f1f0"/>
<rect x="437.64" y="400.72" width="7.08" height="7.76" fill="#f6e9e2"/>
<rect x="444.72" y="400.72" width="7.08" height="7.76" fill="#f4f1f0"/>
<rect x="451.80" y="400.72" width="7.08" height="7.76" fill="#e5856a"/>
<rect x="458.88" y="400.72" width="7.08" height="7.76" fill="#f6b699"/>
<rect x="465.96" y="400.72" width="7.08" height="7.76" fill="#fbd9c6"/>
<rect x="345.60" y="408.48" width="7.08" height="7.76" fill="#a7cfe5"/>
<rect x="352.68" y="408.48" width="7.08" height="7.76" fill="#a7cfe5"/>
<rect x="359.76" y="408.48" width="7.08" height="7.76" fill="#bad9ea"/>
<rect x="366.84" y="408.48" width="7.08" height="7.76" fill="#f9c8af"/>
<rect x="373.92" y="408.48" width="7.08" height="7.76" fill="#f6e9e2"/>
<rect x="381.00" y="408.48" width="7.08" height="7.76" fill="#f6e9e2"/>
<rect x="388.08" y="408.48" width="7.08" height="7.76" fill="#d6604d"/>
<rect x="395.16" y="408.48" width="7.08" height="7.76" fill="#ea9072"/>
<rect x="402.24" y="408.48" width="7.08" height="7.76" fill="#ea9072"/>
<rect x="409.32" y="408.48" width="7.08" height="7.76" fill="#84bcdb"/>
<rect x="416.40" y="408.48" width="7.08" height="7.76" fill="#509ccb"/>
<rect x="423.48" y="408.48" width="7.08" height="7.76" fill="#84bcdb"/>
<rect x="430.56" y="408.48" width="7.08" height="7.76" fill="#f4f1f0"/>
<rect x="437.64" y="408.48" width="7.08" height="7.76" fill="#f6e9e2"/>
<rect x="444.72" y="408.48" width="7.08" height="7.76" fill="#e7ecf0"/>
<rect x="451.80" y="408.48" width="7.08" height="7.76" fill="#f6b699"/>
<rect x="458.88" y="408.48" width="7.08" height="7.76" fill="#f4a582"/>
<rect x="465.96" y="408.48" width="7.08" height="7.76" fill="#fbd9c6"/>
<rect x="345.60" y="416.24" width="7.08" height="7.76" fill="#84bcdb"/>
<rect x="352.68" y="416.24" width="7.08" height="7.76" fill="#72b1d6"/>
<rect x="359.76" y="416.24" width="7.08" height="7.76" fill="#95c6e0"/>
<rect x="366.84" y="416.24" width="7.08" height="7.76" fill="#f6e9e2"/>
<rect x="373.92" y="416.24" width="7.08" height="7.76" fill="#f4f1f0"/>
<rect x="381.00" y="416.24" width="7.08" height="7.76" fill="#f6e9e2"/>
<rect x="388.08" y="416.24" width="7.08" height="7.76" fill="#ef9a7a"/>
<rect x="395.16" y="416.24" width="7.08" height="7.76" fill="#d96954"/>
<rect x="402.24" y="416.24" width="7.08" height="7.76" fill="#f6b699"/>
<rect x="409.32" y="416.24" width="7.08" height="7.76" fill="#95c6e0"/>
<rect x="416.40" y="416.24" width="7.08" height="7.76" fill="#61a6d0"/>
<rect x="423.48" y="416.24" width="7.08" height="7.76" fill="#95c6e0"/>
<rect x="430.56" y="416.24" width="7.08" height="7.76" fill="#f9e1d4"/>
<rect x="437.64" y="416.24" width="7.08" height="7.76" fill="#f4a582"/>
<rect x="444.72" y="416.24" width="7.08" height="7.76" fill="#e7ecf0"/>
<rect x="451.80" y="416.24" width="7.08" height="7.76" fill="#f6b699"/>
<rect x="458.88" y="416.24" width="7.08" height="7.76" fill="#ef9a7a"/>
<rect x="465.96" y="416.24" width="7.08" height="7.76" fill="#ef9a7a"/>
</g>
<rect x="345.4" y="16.2" width="62.9" height="8.5" fill="#0f4c8a"/>
<rect x="411.1" y="16.2" width="63.0" height="8.5" fill="#c8102e"/>
<polygon points="345.4,36.2 408.3,27.7 408.3,36.2" fill="#cdc9d2"/>
<polygon points="411.1,36.2 473.6,27.7 473.6,36.2" fill="#cdc9d2"/>
<text x="476.8" y="35.0" font-size="8.4" fill="#222" font-family="Liberation Sans, sans-serif">Storage</text>
<text x="476.9" y="42.80" font-size="6.35" fill="#222" font-family="Liberation Sans, sans-serif">AcCA (14:0)</text>
<text x="476.9" y="50.58" font-size="6.35" fill="#222" font-family="Liberation Sans, sans-serif">AcCa (16:0)</text>
<text x="476.9" y="58.36" font-size="6.35" fill="#222" font-family="Liberation Sans, sans-serif">AcCa (18:1)</text>
<text x="476.9" y="66.13" font-size="6.35" fill="#222" font-family="Liberation Sans, sans-serif">Putrescine</text>
<text x="476.9" y="73.91" font-size="6.35" fill="#222" font-family="Liberation Sans, sans-serif">Allantoin</text>
<text x="476.9" y="81.69" font-size="6.35" fill="#222" font-family="Liberation Sans, sans-serif">Glutathione</text>
<text x="476.9" y="89.47" font-size="6.35" fill="#222" font-family="Liberation Sans, sans-serif">Methylethanol.</text>
<text x="476.9" y="97.25" font-size="6.35" fill="#222" font-family="Liberation Sans, sans-serif">GSSG</text>
<text x="476.9" y="105.02" font-size="6.35" fill="#222" font-family="Liberation Sans, sans-serif">Carnosine</text>
<text x="476.9" y="112.80" font-size="6.35" fill="#222" font-family="Liberation Sans, sans-serif">Spermidine</text>
<text x="476.9" y="120.58" font-size="6.35" fill="#222" font-family="Liberation Sans, sans-serif">Glutamyl-gln.</text>
<text x="476.9" y="128.36" font-size="6.35" fill="#222" font-family="Liberation Sans, sans-serif">L-glutamine</text>
<text x="476.9" y="136.14" font-size="6.35" fill="#222" font-family="Liberation Sans, sans-serif">AcCa (4 DC)</text>
<text x="476.9" y="143.91" font-size="6.35" fill="#222" font-family="Liberation Sans, sans-serif">Citrate</text>
<text x="476.9" y="151.69" font-size="6.35" fill="#222" font-family="Liberation Sans, sans-serif">Glucose</text>
<text x="476.9" y="159.47" font-size="6.35" fill="#222" font-family="Liberation Sans, sans-serif">AcCa (2:0)</text>
<text x="476.9" y="167.25" font-size="6.35" fill="#222" font-family="Liberation Sans, sans-serif">Ascorbate</text>
<text x="476.9" y="175.03" font-size="6.35" fill="#222" font-family="Liberation Sans, sans-serif">FA 8:0</text>
<text x="476.9" y="182.80" font-size="6.35" fill="#222" font-family="Liberation Sans, sans-serif">FA 16:1</text>
<text x="476.9" y="190.58" font-size="6.35" fill="#222" font-family="Liberation Sans, sans-serif">Ovaloacetate</text>
<text x="476.9" y="198.36" font-size="6.35" fill="#222" font-family="Liberation Sans, sans-serif">Glucosamine</text>
<text x="476.9" y="206.14" font-size="6.35" fill="#222" font-family="Liberation Sans, sans-serif">Dehydroasc.</text>
<text x="476.9" y="213.92" font-size="6.35" fill="#222" font-family="Liberation Sans, sans-serif">L-Carnitine</text>
<text x="476.9" y="221.69" font-size="6.35" fill="#222" font-family="Liberation Sans, sans-serif">Allantoate</text>
<text x="476.9" y="229.47" font-size="6.35" fill="#222" font-family="Liberation Sans, sans-serif">Glutamyl-taur.</text>
<text x="476.9" y="237.25" font-size="6.35" fill="#222" font-family="Liberation Sans, sans-serif">Thymidine</text>
<text x="476.9" y="245.03" font-size="6.35" fill="#222" font-family="Liberation Sans, sans-serif">CMP</text>
<text x="476.9" y="252.81" font-size="6.35" fill="#222" font-family="Liberation Sans, sans-serif">dTMP</text>
<text x="476.9" y="260.58" font-size="6.35" fill="#222" font-family="Liberation Sans, sans-serif">Hydroxyprol.</text>
<text x="476.9" y="268.36" font-size="6.35" fill="#222" font-family="Liberation Sans, sans-serif">AcCa (12:1)</text>
<text x="476.9" y="276.14" font-size="6.35" fill="#222" font-family="Liberation Sans, sans-serif">Glycerol 3P</text>
<text x="476.9" y="283.92" font-size="6.35" fill="#222" font-family="Liberation Sans, sans-serif">Creatinine</text>
<text x="476.8" y="291.70" font-size="6.4" font-weight="bold" fill="#c8102e" font-family="Liberation Sans, sans-serif">S1P</text>
<text x="476.9" y="299.47" font-size="6.35" fill="#222" font-family="Liberation Sans, sans-serif">AcCa (3:0)</text>
<text x="476.9" y="307.25" font-size="6.35" fill="#222" font-family="Liberation Sans, sans-serif">AcCa (12:0)</text>
<text x="476.9" y="315.03" font-size="6.35" fill="#222" font-family="Liberation Sans, sans-serif">AcCa (5:0 OH)</text>
<text x="476.9" y="322.81" font-size="6.35" fill="#222" font-family="Liberation Sans, sans-serif">Indole-acetald.</text>
<text x="476.9" y="330.59" font-size="6.35" fill="#222" font-family="Liberation Sans, sans-serif">FA 16:0</text>
<text x="476.9" y="338.36" font-size="6.35" fill="#222" textLength="42.0" lengthAdjust="spacingAndGlyphs" font-family="Liberation Sans, sans-serif">L-phenylalanine</text>
<text x="476.9" y="346.14" font-size="6.35" fill="#222" font-family="Liberation Sans, sans-serif">FA 12:0</text>
<text x="476.9" y="353.92" font-size="6.35" fill="#222" font-family="Liberation Sans, sans-serif">L-alanine</text>
<text x="476.9" y="361.70" font-size="6.35" fill="#222" font-family="Liberation Sans, sans-serif">kynurenine</text>
<text x="476.9" y="369.48" font-size="6.35" fill="#222" font-family="Liberation Sans, sans-serif">FA 18:2</text>
<text x="476.9" y="377.25" font-size="6.35" fill="#222" font-family="Liberation Sans, sans-serif">AcCa (4:0 OH)</text>
<text x="476.9" y="385.03" font-size="6.35" fill="#222" font-family="Liberation Sans, sans-serif">AcCa (8:0)</text>
<text x="476.9" y="392.81" font-size="6.35" fill="#222" font-family="Liberation Sans, sans-serif">AcCa (18:2)</text>
<text x="476.9" y="400.59" font-size="6.35" fill="#222" font-family="Liberation Sans, sans-serif">Biliverdin</text>
<text x="476.9" y="408.37" font-size="6.35" fill="#222" font-family="Liberation Sans, sans-serif">Choline</text>
<text x="476.9" y="416.14" font-size="6.35" fill="#222" font-family="Liberation Sans, sans-serif">Malate</text>
<text x="476.9" y="423.92" font-size="6.35" fill="#222" font-family="Liberation Sans, sans-serif">GS-Cys</text>
<defs><linearGradient id="cb" x1="0" x2="1" y1="0" y2="0">
<stop offset="0.00" stop-color="#0b3a74"/>
<stop offset="0.10" stop-color="#2263a0"/>
<stop offset="0.20" stop-color="#3f8ac0"/>
<stop offset="0.30" stop-color="#72b1d6"/>
<stop offset="0.40" stop-color="#bad9ea"/>
<stop offset="0.50" stop-color="#f4f1f0"/>
<stop offset="0.60" stop-color="#f9c8af"/>
<stop offset="0.70" stop-color="#ea9072"/>
<stop offset="0.80" stop-color="#d96954"/>
<stop offset="0.90" stop-color="#b2182b"/>
<stop offset="1.00" stop-color="#970f25"/>
</linearGradient></defs>
<rect x="404.5" y="429.3" width="55.1" height="7.2" fill="url(#cb)"/>
<text x="401.5" y="435.3" font-size="6.3" text-anchor="end" fill="#222" font-family="Liberation Sans, sans-serif">&#8722;2</text>
<text x="462.5" y="435.3" font-size="6.3" fill="#222" font-family="Liberation Sans, sans-serif">2</text>
<g stroke="#222" stroke-width="0.8" fill="none" stroke-linecap="square">
<line x1="328.3" y1="101.8" x2="328.3" y2="305.9"/>
<line x1="328.3" y1="101.8" x2="338.3" y2="101.8"/>
<line x1="328.3" y1="305.9" x2="338.3" y2="305.9"/>
<line x1="338.3" y1="57.4" x2="338.3" y2="146.3"/>
<line x1="338.3" y1="57.4" x2="342.9" y2="57.4"/>
<line x1="338.3" y1="146.3" x2="341.5" y2="146.3"/>
<line x1="342.9" y1="46.1" x2="342.9" y2="75.4"/>
<line x1="342.9" y1="46.1" x2="345.4" y2="46.1"/>
<line x1="342.9" y1="75.4" x2="344.0" y2="75.4"/>
<line x1="344.0" y1="66.0" x2="344.0" y2="84.0"/>
<line x1="341.5" y1="108.7" x2="341.5" y2="184.0"/>
<line x1="341.5" y1="108.7" x2="344.0" y2="108.7"/>
<line x1="343.4" y1="117.4" x2="343.4" y2="136.0"/>
<line x1="341.5" y1="126.0" x2="343.4" y2="126.0"/>
<line x1="341.5" y1="184.0" x2="343.5" y2="184.0"/>
<line x1="343.5" y1="160.0" x2="343.5" y2="210.0"/>
<line x1="338.3" y1="248.5" x2="338.3" y2="364.3"/>
<line x1="338.3" y1="248.5" x2="341.5" y2="248.5"/>
<line x1="338.3" y1="364.3" x2="341.5" y2="364.3"/>
<line x1="341.5" y1="225.8" x2="341.5" y2="272.0"/>
<line x1="341.5" y1="225.8" x2="343.1" y2="225.8"/>
<line x1="343.1" y1="215.0" x2="343.1" y2="236.0"/>
<line x1="341.5" y1="272.0" x2="343.0" y2="272.0"/>
<line x1="343.0" y1="260.0" x2="343.0" y2="291.0"/>
<line x1="341.5" y1="337.7" x2="341.5" y2="391.0"/>
<line x1="341.5" y1="337.7" x2="343.4" y2="337.7"/>
<line x1="343.4" y1="319.6" x2="343.4" y2="356.0"/>
<line x1="341.5" y1="391.0" x2="343.4" y2="391.0"/>
<line x1="343.4" y1="375.0" x2="343.4" y2="411.0"/>
<line x1="343.6" y1="63.4" x2="343.6" y2="75.0"/>
<line x1="342.8" y1="63.4" x2="344.5" y2="63.4"/>
<line x1="343.1" y1="123.2" x2="343.1" y2="135.6"/>
<line x1="343.3" y1="107.7" x2="343.3" y2="111.4"/>
<line x1="341.6" y1="165.0" x2="341.6" y2="184.0"/>
<line x1="343.2" y1="222.0" x2="343.2" y2="235.0"/>
<line x1="343.1" y1="260.4" x2="343.1" y2="272.0"/>
<line x1="343.6" y1="273.4" x2="343.6" y2="290.8"/>
<line x1="343.8" y1="355.0" x2="343.8" y2="361.5"/>
<line x1="341.5" y1="379.6" x2="343.8" y2="379.6"/>
<line x1="341.5" y1="397.8" x2="343.8" y2="397.8"/>
</g>
<text x="0.6" y="161.6" font-size="11.8" font-weight="bold" fill="#111" stroke="#111" stroke-width="0.35" font-family="Liberation Sans, sans-serif">C</text>
<line x1="40.4" y1="180.0" x2="40.4" y2="274.2" stroke="#1a1a1a" stroke-width="1.3"/>
<line x1="37.2" y1="190.7" x2="40.4" y2="190.7" stroke="#222" stroke-width="0.9"/>
<text x="34.4" y="193.0" font-size="6.7" text-anchor="end" fill="#222" font-family="Liberation Sans, sans-serif">2</text>
<line x1="37.2" y1="227.3" x2="40.4" y2="227.3" stroke="#222" stroke-width="0.9"/>
<text x="34.4" y="229.6" font-size="6.7" text-anchor="end" fill="#222" font-family="Liberation Sans, sans-serif">0.5</text>
<line x1="37.2" y1="263.8" x2="40.4" y2="263.8" stroke="#222" stroke-width="0.9"/>
<text x="34.4" y="266.1" font-size="6.7" text-anchor="end" fill="#222" font-family="Liberation Sans, sans-serif">&#8722;1</text>
<line x1="39.8" y1="274.2" x2="159.4" y2="274.2" stroke="#1a1a1a" stroke-width="1.3"/>
<line x1="44.5" y1="274.2" x2="44.5" y2="277.0" stroke="#222" stroke-width="0.9"/>
<text x="44.5" y="286.3" font-size="6.7" text-anchor="middle" fill="#222" font-family="Liberation Sans, sans-serif">1h</text>
<line x1="100.0" y1="274.2" x2="100.0" y2="277.0" stroke="#222" stroke-width="0.9"/>
<text x="100.0" y="286.3" font-size="6.7" text-anchor="middle" fill="#222" font-family="Liberation Sans, sans-serif">7d</text>
<line x1="155.8" y1="274.2" x2="155.8" y2="277.0" stroke="#222" stroke-width="0.9"/>
<text x="155.8" y="286.3" font-size="6.7" text-anchor="middle" fill="#222" font-family="Liberation Sans, sans-serif">12d</text>
<text transform="translate(19.5,227.0) rotate(-90) scale(0.70,1)" font-size="8.2" text-anchor="middle" fill="#111" stroke="#111" stroke-width="0.25" font-family="Liberation Sans, sans-serif">Normalized AU</text>
<text x="100.3" y="188.3" font-size="9.1" text-anchor="middle" fill="#222" font-family="Liberation Sans, sans-serif">S1P</text>
<polyline points="44.6,190.6 100.0,224.0 155.6,241.6" fill="none" stroke="#1c4578" stroke-width="0.95" stroke-linejoin="round"/>
<circle cx="44.6" cy="190.6" r="1.35" fill="#1c4578"/>
<circle cx="100.0" cy="224.0" r="1.35" fill="#1c4578"/>
<circle cx="155.6" cy="241.6" r="1.35" fill="#1c4578"/>
<polyline points="44.6,196.5 100.0,225.3 155.6,233.0" fill="none" stroke="#1c4578" stroke-width="0.95" stroke-linejoin="round"/>
<circle cx="44.6" cy="196.5" r="1.35" fill="#1c4578"/>
<circle cx="100.0" cy="225.3" r="1.35" fill="#1c4578"/>
<circle cx="155.6" cy="233.0" r="1.35" fill="#1c4578"/>
<polyline points="44.6,197.8 100.0,231.0 155.6,239.3" fill="none" stroke="#1c4578" stroke-width="0.95" stroke-linejoin="round"/>
<circle cx="44.6" cy="197.8" r="1.35" fill="#1c4578"/>
<circle cx="100.0" cy="231.0" r="1.35" fill="#1c4578"/>
<circle cx="155.6" cy="239.3" r="1.35" fill="#1c4578"/>
<polyline points="44.6,252.6 100.0,262.8 155.6,260.0" fill="none" stroke="#c2173a" stroke-width="1.10" stroke-linejoin="round"/>
<circle cx="44.6" cy="252.6" r="1.35" fill="#c2173a"/>
<circle cx="100.0" cy="262.8" r="1.35" fill="#c2173a"/>
<circle cx="155.6" cy="260.0" r="1.35" fill="#c2173a"/>
<polyline points="44.6,257.0 100.0,260.3 155.6,259.5" fill="none" stroke="#c2173a" stroke-width="1.10" stroke-linejoin="round"/>
<circle cx="44.6" cy="257.0" r="1.35" fill="#c2173a"/>
<circle cx="100.0" cy="260.3" r="1.35" fill="#c2173a"/>
<circle cx="155.6" cy="259.5" r="1.35" fill="#c2173a"/>
<polyline points="44.6,257.3 100.0,261.5 155.6,261.6" fill="none" stroke="#c2173a" stroke-width="1.10" stroke-linejoin="round"/>
<circle cx="44.6" cy="257.3" r="1.35" fill="#c2173a"/>
<circle cx="100.0" cy="261.5" r="1.35" fill="#c2173a"/>
<circle cx="155.6" cy="261.6" r="1.35" fill="#c2173a"/>
<rect x="119.4" y="193.4" width="6.4" height="6.4" fill="#1a4a7c"/>
<rect x="119.4" y="203.8" width="6.4" height="6.4" fill="#c20e2e"/>
<text x="129.0" y="198.8" font-size="6.6" fill="#222" font-family="Liberation Sans, sans-serif">WT</text>
<text x="129.0" y="209.4" font-size="6.6" fill="#222" font-family="Liberation Sans, sans-serif">SphK1 KO</text>
<text x="171.2" y="161.4" font-size="11.8" font-weight="bold" fill="#111" stroke="#111" stroke-width="0.35" font-family="Liberation Sans, sans-serif">E</text>
<line x1="212.3" y1="165.4" x2="212.3" y2="273.8" stroke="#1a1a1a" stroke-width="1.3"/>
<line x1="209.1" y1="167.8" x2="212.3" y2="167.8" stroke="#222" stroke-width="0.9"/>
<text x="206.3" y="170.1" font-size="6.7" text-anchor="end" fill="#222" font-family="Liberation Sans, sans-serif">100</text>
<line x1="209.1" y1="196.2" x2="212.3" y2="196.2" stroke="#222" stroke-width="0.9"/>
<text x="206.3" y="198.5" font-size="6.7" text-anchor="end" fill="#222" font-family="Liberation Sans, sans-serif">80</text>
<line x1="209.1" y1="224.5" x2="212.3" y2="224.5" stroke="#222" stroke-width="0.9"/>
<text x="206.3" y="226.8" font-size="6.7" text-anchor="end" fill="#222" font-family="Liberation Sans, sans-serif">60</text>
<line x1="209.1" y1="252.8" x2="212.3" y2="252.8" stroke="#222" stroke-width="0.9"/>
<text x="206.3" y="255.1" font-size="6.7" text-anchor="end" fill="#222" font-family="Liberation Sans, sans-serif">40</text>
<line x1="211.7" y1="273.8" x2="311.5" y2="273.8" stroke="#1a1a1a" stroke-width="1.3"/>
<line x1="237.4" y1="273.8" x2="237.4" y2="276.6" stroke="#222" stroke-width="0.9"/>
<text x="237.4" y="286.0" font-size="6.6" text-anchor="middle" fill="#222" font-family="Liberation Sans, sans-serif">C57BL/6</text>
<line x1="287.0" y1="273.8" x2="287.0" y2="276.6" stroke="#222" stroke-width="0.9"/>
<text x="287.0" y="286.0" font-size="6.6" text-anchor="middle" fill="#222" font-family="Liberation Sans, sans-serif">Sphk1 KO</text>
<text transform="translate(189.4,219.3) rotate(-90) scale(0.67,1)" font-size="9.0" text-anchor="middle" fill="#111" stroke="#111" stroke-width="0.25" font-family="Liberation Sans, sans-serif">Post-transfusion recovery %</text>
<polyline points="234.7,191.8 234.7,187.7 285.5,187.7 285.5,191.8" fill="none" stroke="#333" stroke-width="0.9"/>
<text x="260.2" y="185.6" font-size="5" text-anchor="middle" fill="#333" font-family="Liberation Sans, sans-serif">*</text>
<g stroke="#1c4578" stroke-width="1.3" fill="none">
<line x1="237.4" y1="221.3" x2="237.4" y2="229.3"/>
<line x1="229.1" y1="221.3" x2="245.1" y2="221.3"/>
<line x1="229.1" y1="229.3" x2="245.1" y2="229.3"/>
</g>
<line x1="220.3" y1="225.2" x2="253.9" y2="225.2" stroke="#3b4655" stroke-width="1.2"/>
<circle cx="237.4" cy="212.6" r="1.9" fill="#173a6a"/>
<circle cx="228.6" cy="224.2" r="1.9" fill="#173a6a"/>
<circle cx="246.0" cy="225.2" r="1.9" fill="#173a6a"/>
<circle cx="237.4" cy="228.1" r="1.9" fill="#173a6a"/>
<circle cx="237.4" cy="236.8" r="1.9" fill="#173a6a"/>
<g stroke="#c20e2e" stroke-width="1.2" fill="none">
<line x1="287.0" y1="197.3" x2="287.0" y2="217.2"/>
<line x1="279.5" y1="197.3" x2="294.6" y2="197.3"/>
<line x1="279.5" y1="217.2" x2="294.6" y2="217.2"/>
</g>
<line x1="270.2" y1="207.1" x2="303.3" y2="207.1" stroke="#333" stroke-width="1.3"/>
<rect x="285.0" y="165.8" width="4.0" height="4.0" fill="#c20e2e"/>
<rect x="285.0" y="209.5" width="4.0" height="4.0" fill="#c20e2e"/>
<rect x="276.1" y="217.3" width="4.0" height="4.0" fill="#c20e2e"/>
<rect x="285.0" y="214.4" width="4.0" height="4.0" fill="#c20e2e"/>
<rect x="293.4" y="216.6" width="4.0" height="4.0" fill="#c20e2e"/>
<text x="0.6" y="313.3" font-size="11.8" font-weight="bold" fill="#111" stroke="#111" stroke-width="0.35" font-family="Liberation Sans, sans-serif">D</text>
<text transform="translate(19.6,402.3) rotate(-90) scale(0.70,1)" font-size="8.2" text-anchor="middle" fill="#111" stroke="#111" stroke-width="0.25" font-family="Liberation Sans, sans-serif">Normalized AU</text>
<text x="76.2" y="327.4" font-size="8.6" text-anchor="middle" fill="#222" font-family="Liberation Sans, sans-serif">Hexose P</text>
<text x="172.7" y="327.4" font-size="8.6" text-anchor="middle" fill="#222" font-family="Liberation Sans, sans-serif">Fructose BP</text>
<text x="275.3" y="327.4" font-size="8.6" text-anchor="middle" fill="#222" font-family="Liberation Sans, sans-serif">Glyceraldehyde 3P</text>
<text x="76.0" y="408.9" font-size="8.6" text-anchor="middle" fill="#222" font-family="Liberation Sans, sans-serif">DPG</text>
<text x="172.5" y="408.9" font-size="8.6" text-anchor="middle" fill="#222" font-family="Liberation Sans, sans-serif">6P-Gluconate</text>
<text x="272.8" y="408.9" font-size="8.6" text-anchor="middle" fill="#222" font-family="Liberation Sans, sans-serif">Sedoheptulose P</text>
<line x1="40.4" y1="333.0" x2="40.4" y2="388.5" stroke="#1a1a1a" stroke-width="1.3"/>
<line x1="37.2" y1="339.0" x2="40.4" y2="339.0" stroke="#222" stroke-width="0.9"/>
<text x="34.4" y="341.3" font-size="6.7" text-anchor="end" fill="#222" font-family="Liberation Sans, sans-serif">2</text>
<line x1="37.2" y1="360.6" x2="40.4" y2="360.6" stroke="#222" stroke-width="0.9"/>
<text x="34.4" y="362.9" font-size="6.7" text-anchor="end" fill="#222" font-family="Liberation Sans, sans-serif">0.5</text>
<line x1="37.2" y1="382.3" x2="40.4" y2="382.3" stroke="#222" stroke-width="0.9"/>
<text x="34.4" y="384.6" font-size="6.7" text-anchor="end" fill="#222" font-family="Liberation Sans, sans-serif">&#8722;1</text>
<line x1="137.3" y1="333.0" x2="137.3" y2="388.5" stroke="#1a1a1a" stroke-width="1.3"/>
<line x1="134.1" y1="339.0" x2="137.3" y2="339.0" stroke="#222" stroke-width="0.9"/>
<line x1="134.1" y1="360.6" x2="137.3" y2="360.6" stroke="#222" stroke-width="0.9"/>
<line x1="134.1" y1="382.3" x2="137.3" y2="382.3" stroke="#222" stroke-width="0.9"/>
<line x1="239.7" y1="333.0" x2="239.7" y2="388.5" stroke="#1a1a1a" stroke-width="1.3"/>
<line x1="236.5" y1="339.0" x2="239.7" y2="339.0" stroke="#222" stroke-width="0.9"/>
<line x1="236.5" y1="360.6" x2="239.7" y2="360.6" stroke="#222" stroke-width="0.9"/>
<line x1="236.5" y1="382.3" x2="239.7" y2="382.3" stroke="#222" stroke-width="0.9"/>
<line x1="40.4" y1="414.2" x2="40.4" y2="470.0" stroke="#1a1a1a" stroke-width="1.3"/>
<line x1="37.2" y1="420.5" x2="40.4" y2="420.5" stroke="#222" stroke-width="0.9"/>
<text x="34.4" y="422.8" font-size="6.7" text-anchor="end" fill="#222" font-family="Liberation Sans, sans-serif">2</text>
<line x1="37.2" y1="442.1" x2="40.4" y2="442.1" stroke="#222" stroke-width="0.9"/>
<text x="34.4" y="444.4" font-size="6.7" text-anchor="end" fill="#222" font-family="Liberation Sans, sans-serif">0.5</text>
<line x1="37.2" y1="463.7" x2="40.4" y2="463.7" stroke="#222" stroke-width="0.9"/>
<text x="34.4" y="466.0" font-size="6.7" text-anchor="end" fill="#222" font-family="Liberation Sans, sans-serif">&#8722;1</text>
<line x1="137.5" y1="414.2" x2="137.5" y2="470.0" stroke="#1a1a1a" stroke-width="1.3"/>
<line x1="134.3" y1="420.5" x2="137.5" y2="420.5" stroke="#222" stroke-width="0.9"/>
<line x1="134.3" y1="442.1" x2="137.5" y2="442.1" stroke="#222" stroke-width="0.9"/>
<line x1="134.3" y1="463.7" x2="137.5" y2="463.7" stroke="#222" stroke-width="0.9"/>
<line x1="237.3" y1="414.2" x2="237.3" y2="470.0" stroke="#1a1a1a" stroke-width="1.3"/>
<line x1="234.1" y1="420.5" x2="237.3" y2="420.5" stroke="#222" stroke-width="0.9"/>
<line x1="234.1" y1="442.1" x2="237.3" y2="442.1" stroke="#222" stroke-width="0.9"/>
<line x1="234.1" y1="463.7" x2="237.3" y2="463.7" stroke="#222" stroke-width="0.9"/>
<line x1="39.8" y1="388.5" x2="111.0" y2="388.5" stroke="#1a1a1a" stroke-width="1.3"/>
<line x1="43.1" y1="388.5" x2="43.1" y2="391.3" stroke="#222" stroke-width="0.9"/>
<line x1="76.0" y1="388.5" x2="76.0" y2="391.3" stroke="#222" stroke-width="0.9"/>
<line x1="108.8" y1="388.5" x2="108.8" y2="391.3" stroke="#222" stroke-width="0.9"/>
<line x1="136.7" y1="388.5" x2="207.5" y2="388.5" stroke="#1a1a1a" stroke-width="1.3"/>
<line x1="139.5" y1="388.5" x2="139.5" y2="391.3" stroke="#222" stroke-width="0.9"/>
<line x1="172.1" y1="388.5" x2="172.1" y2="391.3" stroke="#222" stroke-width="0.9"/>
<line x1="205.4" y1="388.5" x2="205.4" y2="391.3" stroke="#222" stroke-width="0.9"/>
<line x1="239.1" y1="388.5" x2="310.0" y2="388.5" stroke="#1a1a1a" stroke-width="1.3"/>
<line x1="242.5" y1="388.5" x2="242.5" y2="391.3" stroke="#222" stroke-width="0.9"/>
<line x1="275.4" y1="388.5" x2="275.4" y2="391.3" stroke="#222" stroke-width="0.9"/>
<line x1="308.1" y1="388.5" x2="308.1" y2="391.3" stroke="#222" stroke-width="0.9"/>
<line x1="39.8" y1="470.0" x2="110.0" y2="470.0" stroke="#1a1a1a" stroke-width="1.3"/>
<line x1="42.9" y1="470.0" x2="42.9" y2="472.8" stroke="#222" stroke-width="0.9"/>
<text x="42.9" y="482.2" font-size="6.7" text-anchor="middle" fill="#222" font-family="Liberation Sans, sans-serif">1h</text>
<line x1="76.0" y1="470.0" x2="76.0" y2="472.8" stroke="#222" stroke-width="0.9"/>
<text x="76.0" y="482.2" font-size="6.7" text-anchor="middle" fill="#222" font-family="Liberation Sans, sans-serif">7d</text>
<line x1="108.3" y1="470.0" x2="108.3" y2="472.8" stroke="#222" stroke-width="0.9"/>
<text x="108.3" y="482.2" font-size="6.7" text-anchor="middle" fill="#222" font-family="Liberation Sans, sans-serif">12d</text>
<line x1="136.9" y1="470.0" x2="207.5" y2="470.0" stroke="#1a1a1a" stroke-width="1.3"/>
<line x1="138.8" y1="470.0" x2="138.8" y2="472.8" stroke="#222" stroke-width="0.9"/>
<text x="138.8" y="482.2" font-size="6.7" text-anchor="middle" fill="#222" font-family="Liberation Sans, sans-serif">1h</text>
<line x1="172.1" y1="470.0" x2="172.1" y2="472.8" stroke="#222" stroke-width="0.9"/>
<text x="172.1" y="482.2" font-size="6.7" text-anchor="middle" fill="#222" font-family="Liberation Sans, sans-serif">7d</text>
<line x1="205.4" y1="470.0" x2="205.4" y2="472.8" stroke="#222" stroke-width="0.9"/>
<text x="205.4" y="482.2" font-size="6.7" text-anchor="middle" fill="#222" font-family="Liberation Sans, sans-serif">12d</text>
<line x1="236.7" y1="470.0" x2="307.5" y2="470.0" stroke="#1a1a1a" stroke-width="1.3"/>
<line x1="239.8" y1="470.0" x2="239.8" y2="472.8" stroke="#222" stroke-width="0.9"/>
<text x="239.8" y="482.2" font-size="6.7" text-anchor="middle" fill="#222" font-family="Liberation Sans, sans-serif">1h</text>
<line x1="272.7" y1="470.0" x2="272.7" y2="472.8" stroke="#222" stroke-width="0.9"/>
<text x="272.7" y="482.2" font-size="6.7" text-anchor="middle" fill="#222" font-family="Liberation Sans, sans-serif">7d</text>
<line x1="305.4" y1="470.0" x2="305.4" y2="472.8" stroke="#222" stroke-width="0.9"/>
<text x="305.4" y="482.2" font-size="6.7" text-anchor="middle" fill="#222" font-family="Liberation Sans, sans-serif">12d</text>
<polyline points="45.4,377.8 76.0,373.0 106.1,347.2" fill="none" stroke="#1c4578" stroke-width="1.00" stroke-linejoin="round"/>
<circle cx="45.4" cy="377.8" r="1.10" fill="#1c4578"/>
<circle cx="76.0" cy="373.0" r="1.10" fill="#1c4578"/>
<circle cx="106.1" cy="347.2" r="1.10" fill="#1c4578"/>
<polyline points="45.4,378.6 76.0,373.5 106.1,352.8" fill="none" stroke="#1c4578" stroke-width="1.00" stroke-linejoin="round"/>
<circle cx="45.4" cy="378.6" r="1.10" fill="#1c4578"/>
<circle cx="76.0" cy="373.5" r="1.10" fill="#1c4578"/>
<circle cx="106.1" cy="352.8" r="1.10" fill="#1c4578"/>
<polyline points="45.4,379.2 76.0,374.0 106.1,357.8" fill="none" stroke="#1c4578" stroke-width="1.00" stroke-linejoin="round"/>
<circle cx="45.4" cy="379.2" r="1.10" fill="#1c4578"/>
<circle cx="76.0" cy="374.0" r="1.10" fill="#1c4578"/>
<circle cx="106.1" cy="357.8" r="1.10" fill="#1c4578"/>
<polyline points="45.4,380.5 76.0,375.5 106.1,342.3" fill="none" stroke="#c2173a" stroke-width="1.00" stroke-linejoin="round"/>
<circle cx="45.4" cy="380.5" r="1.10" fill="#c2173a"/>
<circle cx="76.0" cy="375.5" r="1.10" fill="#c2173a"/>
<circle cx="106.1" cy="342.3" r="1.10" fill="#c2173a"/>
<polyline points="45.4,381.5 76.0,376.0 106.1,343.4" fill="none" stroke="#c2173a" stroke-width="1.00" stroke-linejoin="round"/>
<circle cx="45.4" cy="381.5" r="1.10" fill="#c2173a"/>
<circle cx="76.0" cy="376.0" r="1.10" fill="#c2173a"/>
<circle cx="106.1" cy="343.4" r="1.10" fill="#c2173a"/>
<polyline points="45.4,382.0 76.0,376.5 106.1,342.8" fill="none" stroke="#c2173a" stroke-width="1.00" stroke-linejoin="round"/>
<circle cx="45.4" cy="382.0" r="1.10" fill="#c2173a"/>
<circle cx="76.0" cy="376.5" r="1.10" fill="#c2173a"/>
<circle cx="106.1" cy="342.8" r="1.10" fill="#c2173a"/>
<polyline points="139.8,339.1 172.1,371.0 204.8,378.6" fill="none" stroke="#1c4578" stroke-width="1.00" stroke-linejoin="round"/>
<circle cx="139.8" cy="339.1" r="1.10" fill="#1c4578"/>
<circle cx="172.1" cy="371.0" r="1.10" fill="#1c4578"/>
<circle cx="204.8" cy="378.6" r="1.10" fill="#1c4578"/>
<polyline points="139.8,340.3 172.1,371.5 204.8,379.0" fill="none" stroke="#1c4578" stroke-width="1.00" stroke-linejoin="round"/>
<circle cx="139.8" cy="340.3" r="1.10" fill="#1c4578"/>
<circle cx="172.1" cy="371.5" r="1.10" fill="#1c4578"/>
<circle cx="204.8" cy="379.0" r="1.10" fill="#1c4578"/>
<polyline points="139.8,340.9 172.1,372.0 204.8,379.3" fill="none" stroke="#1c4578" stroke-width="1.00" stroke-linejoin="round"/>
<circle cx="139.8" cy="340.9" r="1.10" fill="#1c4578"/>
<circle cx="172.1" cy="372.0" r="1.10" fill="#1c4578"/>
<circle cx="204.8" cy="379.3" r="1.10" fill="#1c4578"/>
<polyline points="139.8,347.6 172.1,371.8 204.8,380.9" fill="none" stroke="#c2173a" stroke-width="1.00" stroke-linejoin="round"/>
<circle cx="139.8" cy="347.6" r="1.10" fill="#c2173a"/>
<circle cx="172.1" cy="371.8" r="1.10" fill="#c2173a"/>
<circle cx="204.8" cy="380.9" r="1.10" fill="#c2173a"/>
<polyline points="139.8,348.1 172.1,372.3 204.8,381.3" fill="none" stroke="#c2173a" stroke-width="1.00" stroke-linejoin="round"/>
<circle cx="139.8" cy="348.1" r="1.10" fill="#c2173a"/>
<circle cx="172.1" cy="372.3" r="1.10" fill="#c2173a"/>
<circle cx="204.8" cy="381.3" r="1.10" fill="#c2173a"/>
<polyline points="139.8,348.6 172.1,372.8 204.8,381.8" fill="none" stroke="#c2173a" stroke-width="1.00" stroke-linejoin="round"/>
<circle cx="139.8" cy="348.6" r="1.10" fill="#c2173a"/>
<circle cx="172.1" cy="372.8" r="1.10" fill="#c2173a"/>
<circle cx="204.8" cy="381.8" r="1.10" fill="#c2173a"/>
<polyline points="242.8,344.4 275.4,343.5 308.1,347.3" fill="none" stroke="#1c4578" stroke-width="1.00" stroke-linejoin="round"/>
<circle cx="242.8" cy="344.4" r="1.10" fill="#1c4578"/>
<circle cx="275.4" cy="343.5" r="1.10" fill="#1c4578"/>
<circle cx="308.1" cy="347.3" r="1.10" fill="#1c4578"/>
<polyline points="242.8,350.2 275.4,346.7 308.1,348.0" fill="none" stroke="#1c4578" stroke-width="1.00" stroke-linejoin="round"/>
<circle cx="242.8" cy="350.2" r="1.10" fill="#1c4578"/>
<circle cx="275.4" cy="346.7" r="1.10" fill="#1c4578"/>
<circle cx="308.1" cy="348.0" r="1.10" fill="#1c4578"/>
<polyline points="242.8,350.6 275.4,350.0 308.1,352.5" fill="none" stroke="#1c4578" stroke-width="1.00" stroke-linejoin="round"/>
<circle cx="242.8" cy="350.6" r="1.10" fill="#1c4578"/>
<circle cx="275.4" cy="350.0" r="1.10" fill="#1c4578"/>
<circle cx="308.1" cy="352.5" r="1.10" fill="#1c4578"/>
<polyline points="242.8,340.1 275.4,341.0 308.1,381.9" fill="none" stroke="#c2173a" stroke-width="1.00" stroke-linejoin="round"/>
<circle cx="242.8" cy="340.1" r="1.10" fill="#c2173a"/>
<circle cx="275.4" cy="341.0" r="1.10" fill="#c2173a"/>
<circle cx="308.1" cy="381.9" r="1.10" fill="#c2173a"/>
<polyline points="242.8,350.4 275.4,338.5 308.1,377.5" fill="none" stroke="#c2173a" stroke-width="1.00" stroke-linejoin="round"/>
<circle cx="242.8" cy="350.4" r="1.10" fill="#c2173a"/>
<circle cx="275.4" cy="338.5" r="1.10" fill="#c2173a"/>
<circle cx="308.1" cy="377.5" r="1.10" fill="#c2173a"/>
<polyline points="242.8,354.4 275.4,339.0 308.1,381.9" fill="none" stroke="#c2173a" stroke-width="1.00" stroke-linejoin="round"/>
<circle cx="242.8" cy="354.4" r="1.10" fill="#c2173a"/>
<circle cx="275.4" cy="339.0" r="1.10" fill="#c2173a"/>
<circle cx="308.1" cy="381.9" r="1.10" fill="#c2173a"/>
<polyline points="44.2,421.3 76.0,462.7 108.1,462.7" fill="none" stroke="#1c4578" stroke-width="1.00" stroke-linejoin="round"/>
<circle cx="44.2" cy="421.3" r="1.10" fill="#1c4578"/>
<circle cx="76.0" cy="462.7" r="1.10" fill="#1c4578"/>
<circle cx="108.1" cy="462.7" r="1.10" fill="#1c4578"/>
<polyline points="44.2,422.9 76.0,462.7 108.1,462.7" fill="none" stroke="#1c4578" stroke-width="1.00" stroke-linejoin="round"/>
<circle cx="44.2" cy="422.9" r="1.10" fill="#1c4578"/>
<circle cx="76.0" cy="462.7" r="1.10" fill="#1c4578"/>
<circle cx="108.1" cy="462.7" r="1.10" fill="#1c4578"/>
<polyline points="44.2,424.8 76.0,462.9 108.1,462.9" fill="none" stroke="#1c4578" stroke-width="1.00" stroke-linejoin="round"/>
<circle cx="44.2" cy="424.8" r="1.10" fill="#1c4578"/>
<circle cx="76.0" cy="462.9" r="1.10" fill="#1c4578"/>
<circle cx="108.1" cy="462.9" r="1.10" fill="#1c4578"/>
<polyline points="44.2,431.5 76.0,462.7 108.1,462.7" fill="none" stroke="#c2173a" stroke-width="1.00" stroke-linejoin="round"/>
<circle cx="44.2" cy="431.5" r="1.10" fill="#c2173a"/>
<circle cx="76.0" cy="462.7" r="1.10" fill="#c2173a"/>
<circle cx="108.1" cy="462.7" r="1.10" fill="#c2173a"/>
<polyline points="44.2,433.5 76.0,462.9 108.1,462.9" fill="none" stroke="#c2173a" stroke-width="1.00" stroke-linejoin="round"/>
<circle cx="44.2" cy="433.5" r="1.10" fill="#c2173a"/>
<circle cx="76.0" cy="462.9" r="1.10" fill="#c2173a"/>
<circle cx="108.1" cy="462.9" r="1.10" fill="#c2173a"/>
<polyline points="44.2,434.8 76.0,463.1 108.1,462.7" fill="none" stroke="#c2173a" stroke-width="1.00" stroke-linejoin="round"/>
<circle cx="44.2" cy="434.8" r="1.10" fill="#c2173a"/>
<circle cx="76.0" cy="463.1" r="1.10" fill="#c2173a"/>
<circle cx="108.1" cy="462.7" r="1.10" fill="#c2173a"/>
<polyline points="138.8,438.3 172.1,453.1 205.4,463.7" fill="none" stroke="#1c4578" stroke-width="1.00" stroke-linejoin="round"/>
<circle cx="138.8" cy="438.3" r="1.10" fill="#1c4578"/>
<circle cx="172.1" cy="453.1" r="1.10" fill="#1c4578"/>
<circle cx="205.4" cy="463.7" r="1.10" fill="#1c4578"/>
<polyline points="138.8,441.7 172.1,455.6 205.4,464.6" fill="none" stroke="#1c4578" stroke-width="1.00" stroke-linejoin="round"/>
<circle cx="138.8" cy="441.7" r="1.10" fill="#1c4578"/>
<circle cx="172.1" cy="455.6" r="1.10" fill="#1c4578"/>
<circle cx="205.4" cy="464.6" r="1.10" fill="#1c4578"/>
<polyline points="138.8,444.4 172.1,456.2 205.4,465.2" fill="none" stroke="#1c4578" stroke-width="1.00" stroke-linejoin="round"/>
<circle cx="138.8" cy="444.4" r="1.10" fill="#1c4578"/>
<circle cx="172.1" cy="456.2" r="1.10" fill="#1c4578"/>
<circle cx="205.4" cy="465.2" r="1.10" fill="#1c4578"/>
<polyline points="138.8,421.9 172.1,445.4 205.4,456.9" fill="none" stroke="#c2173a" stroke-width="1.00" stroke-linejoin="round"/>
<circle cx="138.8" cy="421.9" r="1.10" fill="#c2173a"/>
<circle cx="172.1" cy="445.4" r="1.10" fill="#c2173a"/>
<circle cx="205.4" cy="456.9" r="1.10" fill="#c2173a"/>
<polyline points="138.8,423.8 172.1,446.5 205.4,458.1" fill="none" stroke="#c2173a" stroke-width="1.00" stroke-linejoin="round"/>
<circle cx="138.8" cy="423.8" r="1.10" fill="#c2173a"/>
<circle cx="172.1" cy="446.5" r="1.10" fill="#c2173a"/>
<circle cx="205.4" cy="458.1" r="1.10" fill="#c2173a"/>
<polyline points="138.8,425.4 172.1,447.3 205.4,459.4" fill="none" stroke="#c2173a" stroke-width="1.00" stroke-linejoin="round"/>
<circle cx="138.8" cy="425.4" r="1.10" fill="#c2173a"/>
<circle cx="172.1" cy="447.3" r="1.10" fill="#c2173a"/>
<circle cx="205.4" cy="459.4" r="1.10" fill="#c2173a"/>
<polyline points="241.3,464.2 272.7,438.8 304.2,436.3" fill="none" stroke="#1c4578" stroke-width="1.00" stroke-linejoin="round"/>
<circle cx="241.3" cy="464.2" r="1.10" fill="#1c4578"/>
<circle cx="272.7" cy="438.8" r="1.10" fill="#1c4578"/>
<circle cx="304.2" cy="436.3" r="1.10" fill="#1c4578"/>
<polyline points="241.3,465.8 272.7,445.0 304.2,441.5" fill="none" stroke="#1c4578" stroke-width="1.00" stroke-linejoin="round"/>
<circle cx="241.3" cy="465.8" r="1.10" fill="#1c4578"/>
<circle cx="272.7" cy="445.0" r="1.10" fill="#1c4578"/>
<circle cx="304.2" cy="441.5" r="1.10" fill="#1c4578"/>
<polyline points="241.3,467.1 272.7,448.8 304.2,444.0" fill="none" stroke="#1c4578" stroke-width="1.00" stroke-linejoin="round"/>
<circle cx="241.3" cy="467.1" r="1.10" fill="#1c4578"/>
<circle cx="272.7" cy="448.8" r="1.10" fill="#1c4578"/>
<circle cx="304.2" cy="444.0" r="1.10" fill="#1c4578"/>
<polyline points="241.3,462.3 272.7,433.5 304.2,431.2" fill="none" stroke="#c2173a" stroke-width="1.00" stroke-linejoin="round"/>
<circle cx="241.3" cy="462.3" r="1.10" fill="#c2173a"/>
<circle cx="272.7" cy="433.5" r="1.10" fill="#c2173a"/>
<circle cx="304.2" cy="431.2" r="1.10" fill="#c2173a"/>
<polyline points="241.3,463.3 272.7,435.0 304.2,428.7" fill="none" stroke="#c2173a" stroke-width="1.00" stroke-linejoin="round"/>
<circle cx="241.3" cy="463.3" r="1.10" fill="#c2173a"/>
<circle cx="272.7" cy="435.0" r="1.10" fill="#c2173a"/>
<circle cx="304.2" cy="428.7" r="1.10" fill="#c2173a"/>
<polyline points="241.3,463.8 272.7,445.0 304.2,426.2" fill="none" stroke="#c2173a" stroke-width="1.00" stroke-linejoin="round"/>
<circle cx="241.3" cy="463.8" r="1.10" fill="#c2173a"/>
<circle cx="272.7" cy="445.0" r="1.10" fill="#c2173a"/>
<circle cx="304.2" cy="426.2" r="1.10" fill="#c2173a"/>
<rect x="318.2" y="453.8" width="6.2" height="6.2" fill="#1a4a7c"/>
<rect x="318.2" y="464.8" width="6.2" height="6.2" fill="#c20e2e"/>
<text x="327.7" y="459.0" font-size="6.5" fill="#222" font-family="Liberation Sans, sans-serif">WT</text>
<text x="327.7" y="470.1" font-size="6.5" fill="#222" font-family="Liberation Sans, sans-serif">SphK1 KO</text>
</svg>
</body></html>
